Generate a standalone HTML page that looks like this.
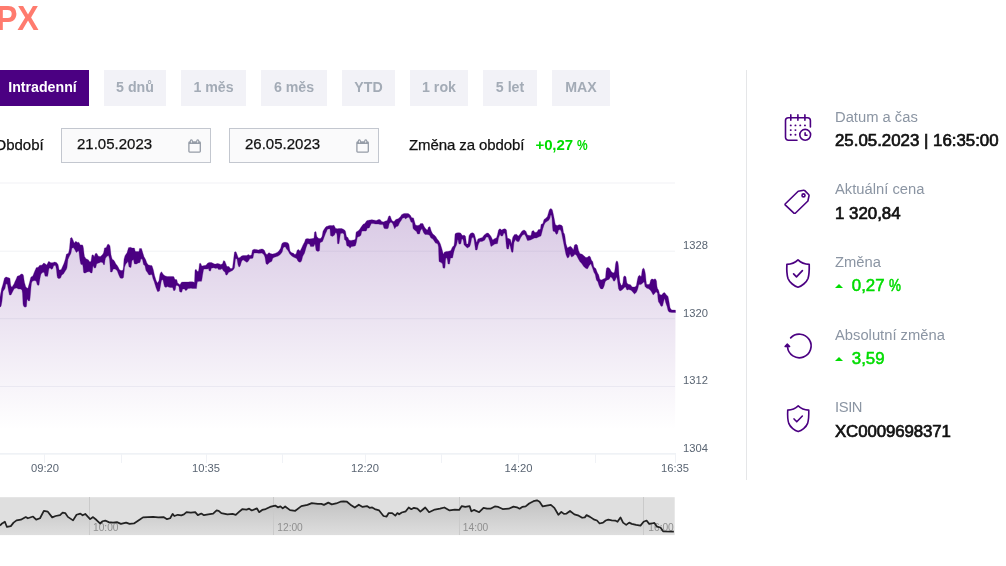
<!DOCTYPE html>
<html lang="cs">
<head>
<meta charset="utf-8">
<title>PX</title>
<style>
html,body{margin:0;padding:0;background:#fff;}
body{width:1006px;height:566px;overflow:hidden;position:relative;font-family:"Liberation Sans",sans-serif;color:#000;}
.abs{position:absolute;white-space:nowrap;}
h1{position:absolute;left:-4.2px;top:0.4px;margin:0;font-size:34.7px;line-height:36px;font-weight:bold;color:#ff7b6e;letter-spacing:-0.3px;transform:scaleX(0.93);transform-origin:0 0;}
.tab{position:absolute;top:70px;height:36px;line-height:35px;box-sizing:border-box;text-align:center;font-size:14.2px;font-weight:bold;color:#a3abb6;background:#f2f2f7;white-space:nowrap;}
.tab.on{background:#4b0082;color:#fff;}
.inp{position:absolute;top:128px;height:35px;width:150px;box-sizing:border-box;border:1px solid #c3c7cf;background:#fafafb;font-size:15px;line-height:30px;padding-left:15px;color:#111;-webkit-text-stroke:0.25px currentColor;}
.inp svg{position:absolute;left:126px;top:10px;}
.lbl{position:absolute;font-size:15px;line-height:20px;color:#111;white-space:nowrap;-webkit-text-stroke:0.25px currentColor;}
.grn{color:#00dc00;font-weight:bold;letter-spacing:-0.12px;-webkit-text-stroke:0;}
.k{position:absolute;left:835px;font-size:14.75px;line-height:18px;color:#8b95a3;white-space:nowrap;}
.v{position:absolute;left:835px;font-size:16.85px;line-height:20px;font-weight:normal;-webkit-text-stroke:0.7px currentColor;color:#111;white-space:nowrap;margin-top:1px;}
.v.g{color:#00dc00;font-size:16.85px;word-spacing:-0.5px;-webkit-text-stroke:0.55px currentColor;}
.pc{display:inline-block;transform:scaleX(0.8);transform-origin:0 50%;}
.v.g i{display:inline-block;width:0;height:0;border-left:4px solid transparent;border-right:4px solid transparent;border-bottom:4.2px solid #00dc00;margin:0 8.8px 1.4px 0;vertical-align:middle;}
.ico{position:absolute;left:784px;width:28px;height:28px;}
.div{position:absolute;left:746px;top:70px;width:1px;height:410px;background:#e5e6e8;}
svg text.ax{font-family:"Liberation Sans",sans-serif;font-size:11.2px;fill:#5a6573;}
svg text.nv{font-family:"Liberation Sans",sans-serif;font-size:10.2px;fill:#8f8f8f;}
</style>
</head>
<body>
<h1>PX</h1>

<div class="tab on" style="left:-4px;width:93px;">Intradenní</div>
<div class="tab" style="left:104px;width:62px;">5 dnů</div>
<div class="tab" style="left:181px;width:65px;">1 měs</div>
<div class="tab" style="left:261px;width:66px;">6 měs</div>
<div class="tab" style="left:342px;width:53px;">YTD</div>
<div class="tab" style="left:410px;width:58px;">1 rok</div>
<div class="tab" style="left:483px;width:54px;">5 let</div>
<div class="tab" style="left:552px;width:58px;">MAX</div>

<div class="lbl" style="left:-5.5px;top:135px;">Období</div>
<div class="inp" style="left:61px;">21.05.2023<svg width="14" height="15" viewBox="0 0 14 15" fill="none" stroke="#959ca7" stroke-width="1.300"><rect x="0.900" y="3.100" width="11.400" height="10" rx="0.800"/><rect x="0.900" y="2.600" width="11.400" height="2.400" fill="#959ca7" stroke="none"/><rect x="2.300" y="0.900" width="2.100" height="3.400" rx="1" fill="#fafafb" stroke-width="1.100"/><rect x="8.700" y="0.900" width="2.100" height="3.400" rx="1" fill="#fafafb" stroke-width="1.100"/></svg></div>
<div class="inp" style="left:229px;">26.05.2023<svg width="14" height="15" viewBox="0 0 14 15" fill="none" stroke="#959ca7" stroke-width="1.300"><rect x="0.900" y="3.100" width="11.400" height="10" rx="0.800"/><rect x="0.900" y="2.600" width="11.400" height="2.400" fill="#959ca7" stroke="none"/><rect x="2.300" y="0.900" width="2.100" height="3.400" rx="1" fill="#fafafb" stroke-width="1.100"/><rect x="8.700" y="0.900" width="2.100" height="3.400" rx="1" fill="#fafafb" stroke-width="1.100"/></svg></div>
<div class="lbl" style="left:409px;top:135px;letter-spacing:-0.1px;">Změna za období</div>
<div class="lbl grn" style="left:535.5px;top:135px;">+0,27 <span class="pc">%</span></div>

<svg class="abs" style="left:0;top:0;" width="746" height="566" viewBox="0 0 746 566">
<defs>
<linearGradient id="ga" gradientUnits="userSpaceOnUse" x1="0" y1="208" x2="0" y2="430">
<stop offset="0" stop-color="#4b0082" stop-opacity="0.215"/>
<stop offset="1" stop-color="#4b0082" stop-opacity="0"/>
</linearGradient>
<linearGradient id="gn" gradientUnits="userSpaceOnUse" x1="0" y1="500" x2="0" y2="535">
<stop offset="0" stop-color="#c2c2c2"/>
<stop offset="1" stop-color="#dedede"/>
</linearGradient>
</defs>
<rect x="0" y="182.5" width="675" height="1" fill="#f1f2f6"/><rect x="0" y="250.7" width="675" height="1" fill="#f1f2f6"/><rect x="0" y="318.2" width="675" height="1" fill="#f1f2f6"/><rect x="0" y="386" width="675" height="1" fill="#f1f2f6"/>
<rect x="0" y="453.3" width="676" height="1.2" fill="#e9edf2"/>
<rect x="44.0" y="454" width="1" height="9" fill="#f0f2f6"/><rect x="121.0" y="454" width="1" height="9" fill="#f0f2f6"/><rect x="206.0" y="454" width="1" height="9" fill="#f0f2f6"/><rect x="282.0" y="454" width="1" height="9" fill="#f0f2f6"/><rect x="365.0" y="454" width="1" height="9" fill="#f0f2f6"/><rect x="441.0" y="454" width="1" height="9" fill="#f0f2f6"/><rect x="518.0" y="454" width="1" height="9" fill="#f0f2f6"/><rect x="595.0" y="454" width="1" height="9" fill="#f0f2f6"/><rect x="675.0" y="454" width="1" height="9" fill="#f0f2f6"/>
<path d="M0.0 302.0 L0.5 300.5 L1.0 299.0 L1.5 296.5 L2.0 294.3 L2.5 291.0 L3.0 287.7 L3.5 286.4 L4.0 285.0 L4.5 283.7 L5.0 283.0 L5.5 281.6 L6.0 280.3 L6.5 280.5 L7.0 280.8 L7.5 281.1 L8.0 282.7 L8.5 284.3 L9.0 285.4 L9.5 286.5 L10.0 286.9 L10.5 289.4 L11.0 290.6 L11.5 290.3 L12.0 289.9 L12.5 289.0 L13.0 288.2 L13.5 287.4 L14.0 286.6 L14.5 285.6 L15.0 285.0 L15.5 284.4 L16.0 283.8 L16.5 283.2 L17.0 282.7 L17.5 282.3 L18.0 282.4 L18.5 282.4 L19.0 282.4 L19.5 282.3 L20.0 282.1 L20.5 281.8 L21.0 281.7 L21.5 281.8 L22.0 282.1 L22.5 283.8 L23.0 289.3 L23.5 290.8 L24.0 293.0 L24.5 294.8 L25.0 295.8 L25.5 296.5 L26.0 297.0 L26.5 297.0 L27.0 293.6 L27.5 293.8 L28.0 294.1 L28.5 293.5 L29.0 292.6 L29.5 291.7 L30.0 289.7 L30.5 285.8 L31.0 282.2 L31.5 279.9 L32.0 279.2 L32.5 278.7 L33.0 278.3 L33.5 277.6 L34.0 276.8 L34.5 276.2 L35.0 275.6 L35.5 275.1 L36.0 274.6 L36.5 274.8 L37.0 275.7 L37.5 276.2 L38.0 276.2 L38.5 276.1 L39.0 275.7 L39.5 273.5 L40.0 271.8 L40.5 270.5 L41.0 269.7 L41.5 269.4 L42.0 268.9 L42.5 268.5 L43.0 268.1 L43.5 267.8 L44.0 267.7 L44.5 268.5 L45.0 269.9 L45.5 270.1 L46.0 270.3 L46.5 270.6 L47.0 270.5 L47.5 270.0 L48.0 268.6 L48.5 266.5 L49.0 265.0 L49.5 265.0 L50.0 265.0 L50.5 265.4 L51.0 265.9 L51.5 266.0 L52.0 265.9 L52.5 265.7 L53.0 265.2 L53.5 264.3 L54.0 263.9 L54.5 263.8 L55.0 263.8 L55.5 263.9 L56.0 264.9 L56.5 266.4 L57.0 269.4 L57.5 270.8 L58.0 271.3 L58.5 272.6 L59.0 273.9 L59.5 274.2 L60.0 274.1 L60.5 274.0 L61.0 273.4 L61.5 272.2 L62.0 271.3 L62.5 270.6 L63.0 269.9 L63.5 269.2 L64.0 268.2 L64.5 267.0 L65.0 265.8 L65.5 264.6 L66.0 263.0 L66.5 261.6 L67.0 260.7 L67.5 258.4 L68.0 256.4 L68.5 255.5 L69.0 254.0 L69.5 252.1 L70.0 248.8 L70.5 246.2 L71.0 245.4 L71.5 243.9 L72.0 242.9 L72.5 243.4 L73.0 243.9 L73.5 244.5 L74.0 245.4 L74.5 246.1 L75.0 246.1 L75.5 246.3 L76.0 246.6 L76.5 247.1 L77.0 247.1 L77.5 247.0 L78.0 246.7 L78.5 246.5 L79.0 247.4 L79.5 250.1 L80.0 252.5 L80.5 254.0 L81.0 254.8 L81.5 254.7 L82.0 254.6 L82.5 254.8 L83.0 256.3 L83.5 260.2 L84.0 263.1 L84.5 264.7 L85.0 265.1 L85.5 265.4 L86.0 265.6 L86.5 265.8 L87.0 265.7 L87.5 265.7 L88.0 265.7 L88.5 265.8 L89.0 266.2 L89.5 266.7 L90.0 267.1 L90.5 267.2 L91.0 267.1 L91.5 265.5 L92.0 264.0 L92.5 262.6 L93.0 260.2 L93.5 260.9 L94.0 262.0 L94.5 262.1 L95.0 261.2 L95.5 260.8 L96.0 260.1 L96.5 258.9 L97.0 258.6 L97.5 259.0 L98.0 259.5 L98.5 259.6 L99.0 259.6 L99.5 259.5 L100.0 259.5 L100.5 259.3 L101.0 259.1 L101.5 258.9 L102.0 258.8 L102.5 258.5 L103.0 258.5 L103.5 258.8 L104.0 257.8 L104.5 256.3 L105.0 254.2 L105.5 253.0 L106.0 252.6 L106.5 251.9 L107.0 251.0 L107.5 250.3 L108.0 250.1 L108.5 250.0 L109.0 250.7 L109.5 252.1 L110.0 255.6 L110.5 261.1 L111.0 263.4 L111.5 264.3 L112.0 265.3 L112.5 265.1 L113.0 264.6 L113.5 264.6 L114.0 264.7 L114.5 265.2 L115.0 265.7 L115.5 266.3 L116.0 266.9 L116.5 267.4 L117.0 267.9 L117.5 268.7 L118.0 269.9 L118.5 271.0 L119.0 272.1 L119.5 273.2 L120.0 273.9 L120.5 274.2 L121.0 274.3 L121.5 274.4 L122.0 274.4 L122.5 274.2 L123.0 274.0 L123.5 272.0 L124.0 266.0 L124.5 262.5 L125.0 260.8 L125.5 259.8 L126.0 259.0 L126.5 258.3 L127.0 257.7 L127.5 256.6 L128.0 255.5 L128.5 255.9 L129.0 257.2 L129.5 257.3 L130.0 257.3 L130.5 257.4 L131.0 257.5 L131.5 255.9 L132.0 254.3 L132.5 254.2 L133.0 254.0 L133.5 253.9 L134.0 255.3 L134.5 256.1 L135.0 257.2 L135.5 257.8 L136.0 257.8 L136.5 257.8 L137.0 257.7 L137.5 257.5 L138.0 257.3 L138.5 257.3 L139.0 257.1 L139.5 255.7 L140.0 255.5 L140.5 254.5 L141.0 253.5 L141.5 253.8 L142.0 254.7 L142.5 255.8 L143.0 257.9 L143.5 259.9 L144.0 260.8 L144.5 261.4 L145.0 262.1 L145.5 263.8 L146.0 265.6 L146.5 266.6 L147.0 267.6 L147.5 268.2 L148.0 269.0 L148.5 269.7 L149.0 270.1 L149.5 270.1 L150.0 270.1 L150.5 270.1 L151.0 270.1 L151.5 270.1 L152.0 270.2 L152.5 272.0 L153.0 273.7 L153.5 275.2 L154.0 277.1 L154.5 279.0 L155.0 280.7 L155.5 282.3 L156.0 283.9 L156.5 285.1 L157.0 286.3 L157.5 287.2 L158.0 286.8 L158.5 286.5 L159.0 285.9 L159.5 283.9 L160.0 281.2 L160.5 279.5 L161.0 277.6 L161.5 276.1 L162.0 276.3 L162.5 276.5 L163.0 277.0 L163.5 278.5 L164.0 279.9 L164.5 281.0 L165.0 281.3 L165.5 281.7 L166.0 281.8 L166.5 281.7 L167.0 281.6 L167.5 281.6 L168.0 281.6 L168.5 281.7 L169.0 281.8 L169.5 281.9 L170.0 281.9 L170.5 281.9 L171.0 282.0 L171.5 282.0 L172.0 282.0 L172.5 282.0 L173.0 282.5 L173.5 283.5 L174.0 283.8 L174.5 284.5 L175.0 285.0 L175.5 284.1 L176.0 282.5 L176.5 282.5 L177.0 283.0 L177.5 284.1 L178.0 284.8 L178.5 284.8 L179.0 285.7 L179.5 287.8 L180.0 288.2 L180.5 288.1 L181.0 287.5 L181.5 287.2 L182.0 286.8 L182.5 285.7 L183.0 285.5 L183.5 285.5 L184.0 285.5 L184.5 285.5 L185.0 285.9 L185.5 286.2 L186.0 286.2 L186.5 286.2 L187.0 285.9 L187.5 285.5 L188.0 285.2 L188.5 285.2 L189.0 285.1 L189.5 285.1 L190.0 285.1 L190.5 285.1 L191.0 285.1 L191.5 285.1 L192.0 285.1 L192.5 285.1 L193.0 285.2 L193.5 285.3 L194.0 285.4 L194.5 285.5 L195.0 279.3 L195.5 279.1 L196.0 278.9 L196.5 279.2 L197.0 277.6 L197.5 276.5 L198.0 276.4 L198.5 276.3 L199.0 274.7 L199.5 272.5 L200.0 272.4 L200.5 272.3 L201.0 272.7 L201.5 273.5 L202.0 272.5 L202.5 270.8 L203.0 269.2 L203.5 267.8 L204.0 267.3 L204.5 267.3 L205.0 267.2 L205.5 267.2 L206.0 267.1 L206.5 266.9 L207.0 266.5 L207.5 266.1 L208.0 265.9 L208.5 265.7 L209.0 266.6 L209.5 266.7 L210.0 266.7 L210.5 266.8 L211.0 266.1 L211.5 265.4 L212.0 265.4 L212.5 265.5 L213.0 265.6 L213.5 265.7 L214.0 265.8 L214.5 266.0 L215.0 266.1 L215.5 266.3 L216.0 266.1 L216.5 266.0 L217.0 265.8 L217.5 265.8 L218.0 266.2 L218.5 266.6 L219.0 266.7 L219.5 266.8 L220.0 266.9 L220.5 267.0 L221.0 267.0 L221.5 266.6 L222.0 266.3 L222.5 266.5 L223.0 266.2 L223.5 265.9 L224.0 266.1 L224.5 266.3 L225.0 266.9 L225.5 268.5 L226.0 269.6 L226.5 270.2 L227.0 270.8 L227.5 270.4 L228.0 270.0 L228.5 269.6 L229.0 269.5 L229.5 269.7 L230.0 269.9 L230.5 270.1 L231.0 269.9 L231.5 269.7 L232.0 269.5 L232.5 269.1 L233.0 267.0 L233.5 264.7 L234.0 262.3 L234.5 259.9 L235.0 257.5 L235.5 255.2 L236.0 255.2 L236.5 255.9 L237.0 256.7 L237.5 258.8 L238.0 260.9 L238.5 262.1 L239.0 262.5 L239.5 262.2 L240.0 261.8 L240.5 261.1 L241.0 259.9 L241.5 258.8 L242.0 258.3 L242.5 257.9 L243.0 257.7 L243.5 257.8 L244.0 258.0 L244.5 258.2 L245.0 258.3 L245.5 258.5 L246.0 258.7 L246.5 258.8 L247.0 259.0 L247.5 258.5 L248.0 258.1 L248.5 257.7 L249.0 257.5 L249.5 257.2 L250.0 257.0 L250.5 256.9 L251.0 256.8 L251.5 256.5 L252.0 255.3 L252.5 254.2 L253.0 253.8 L253.5 252.4 L254.0 251.2 L254.5 251.1 L255.0 251.2 L255.5 251.2 L256.0 251.3 L256.5 251.3 L257.0 251.4 L257.5 251.5 L258.0 251.6 L258.5 251.6 L259.0 251.5 L259.5 251.4 L260.0 251.3 L260.5 251.2 L261.0 251.1 L261.5 251.1 L262.0 251.2 L262.5 251.3 L263.0 251.6 L263.5 251.9 L264.0 252.5 L264.5 253.2 L265.0 254.6 L265.5 256.8 L266.0 258.9 L266.5 259.2 L267.0 259.3 L267.5 259.3 L268.0 258.9 L268.5 258.3 L269.0 257.8 L269.5 257.7 L270.0 257.8 L270.5 257.8 L271.0 257.7 L271.5 257.7 L272.0 257.4 L272.5 256.5 L273.0 255.9 L273.5 255.7 L274.0 255.6 L274.5 255.4 L275.0 255.3 L275.5 255.1 L276.0 254.9 L276.5 254.7 L277.0 254.5 L277.5 254.3 L278.0 253.9 L278.5 253.6 L279.0 253.1 L279.5 252.6 L280.0 252.0 L280.5 251.3 L281.0 250.3 L281.5 248.8 L282.0 247.9 L282.5 247.0 L283.0 245.7 L283.5 244.9 L284.0 244.7 L284.5 244.6 L285.0 244.5 L285.5 244.7 L286.0 245.2 L286.5 245.6 L287.0 246.1 L287.5 246.5 L288.0 246.9 L288.5 247.6 L289.0 248.6 L289.5 251.0 L290.0 252.6 L290.5 253.2 L291.0 253.8 L291.5 254.2 L292.0 254.5 L292.5 254.7 L293.0 254.9 L293.5 255.2 L294.0 255.6 L294.5 256.0 L295.0 256.1 L295.5 256.1 L296.0 256.1 L296.5 255.5 L297.0 254.9 L297.5 255.0 L298.0 255.5 L298.5 255.6 L299.0 255.9 L299.5 256.3 L300.0 256.6 L300.5 256.2 L301.0 255.5 L301.5 254.7 L302.0 253.2 L302.5 251.5 L303.0 250.3 L303.5 249.5 L304.0 248.6 L304.5 247.7 L305.0 246.2 L305.5 244.5 L306.0 243.4 L306.5 242.6 L307.0 241.9 L307.5 241.2 L308.0 241.2 L308.5 241.3 L309.0 241.4 L309.5 241.5 L310.0 242.0 L310.5 242.6 L311.0 242.6 L311.5 242.6 L312.0 242.6 L312.5 242.5 L313.0 242.5 L313.5 242.4 L314.0 241.9 L314.5 238.5 L315.0 237.7 L315.5 239.2 L316.0 240.9 L316.5 242.8 L317.0 243.9 L317.5 244.3 L318.0 244.7 L318.5 244.8 L319.0 244.6 L319.5 244.5 L320.0 240.7 L320.5 240.5 L321.0 240.1 L321.5 239.6 L322.0 239.2 L322.5 237.8 L323.0 235.7 L323.5 234.6 L324.0 233.5 L324.5 232.5 L325.0 231.5 L325.5 230.5 L326.0 229.6 L326.5 228.9 L327.0 228.3 L327.5 227.7 L328.0 227.5 L328.5 227.4 L329.0 227.3 L329.5 227.1 L330.0 227.3 L330.5 230.6 L331.0 230.7 L331.5 230.8 L332.0 231.0 L332.5 231.0 L333.0 230.7 L333.5 230.5 L334.0 230.4 L334.5 230.6 L335.0 230.5 L335.5 230.4 L336.0 230.6 L336.5 230.8 L337.0 231.8 L337.5 236.1 L338.0 236.2 L338.5 236.3 L339.0 236.0 L339.5 234.3 L340.0 232.7 L340.5 231.1 L341.0 231.0 L341.5 230.9 L342.0 230.9 L342.5 231.0 L343.0 231.3 L343.5 231.5 L344.0 232.1 L344.5 234.8 L345.0 235.3 L345.5 235.8 L346.0 237.6 L346.5 240.5 L347.0 241.5 L347.5 241.7 L348.0 242.0 L348.5 242.7 L349.0 243.3 L349.5 243.9 L350.0 244.3 L350.5 244.0 L351.0 243.7 L351.5 243.4 L352.0 243.3 L352.5 243.3 L353.0 243.2 L353.5 243.1 L354.0 243.0 L354.5 242.9 L355.0 242.8 L355.5 241.9 L356.0 238.3 L356.5 236.8 L357.0 235.3 L357.5 234.1 L358.0 233.9 L358.5 233.6 L359.0 233.3 L359.5 232.9 L360.0 232.5 L360.5 231.9 L361.0 231.0 L361.5 229.5 L362.0 228.4 L362.5 228.1 L363.0 227.8 L363.5 227.6 L364.0 227.5 L364.5 227.4 L365.0 227.2 L365.5 226.8 L366.0 226.5 L366.5 225.8 L367.0 224.8 L367.5 224.3 L368.0 224.2 L368.5 224.2 L369.0 224.1 L369.5 223.8 L370.0 223.2 L370.5 222.5 L371.0 222.0 L371.5 221.6 L372.0 221.6 L372.5 221.7 L373.0 221.7 L373.5 221.8 L374.0 221.9 L374.5 222.0 L375.0 222.1 L375.5 222.2 L376.0 222.3 L376.5 222.3 L377.0 222.2 L377.5 222.1 L378.0 221.9 L378.5 221.9 L379.0 221.9 L379.5 221.9 L380.0 222.0 L380.5 222.2 L381.0 222.6 L381.5 223.0 L382.0 223.1 L382.5 223.2 L383.0 223.2 L383.5 224.3 L384.0 225.0 L384.5 224.9 L385.0 224.9 L385.5 224.9 L386.0 224.8 L386.5 224.8 L387.0 224.7 L387.5 224.2 L388.0 223.4 L388.5 221.8 L389.0 220.3 L389.5 219.6 L390.0 219.2 L390.5 219.5 L391.0 220.2 L391.5 220.9 L392.0 221.6 L392.5 222.3 L393.0 223.0 L393.5 223.6 L394.0 224.4 L394.5 224.9 L395.0 224.5 L395.5 223.7 L396.0 223.1 L396.5 222.9 L397.0 222.7 L397.5 222.6 L398.0 222.4 L398.5 221.8 L399.0 221.0 L399.5 220.2 L400.0 219.7 L400.5 219.0 L401.0 218.2 L401.5 217.4 L402.0 216.8 L402.5 216.3 L403.0 216.0 L403.5 215.8 L404.0 215.7 L404.5 215.6 L405.0 215.9 L405.5 216.2 L406.0 216.0 L406.5 215.8 L407.0 215.6 L407.5 215.5 L408.0 215.5 L408.5 215.5 L409.0 215.6 L409.5 216.4 L410.0 217.2 L410.5 218.1 L411.0 219.3 L411.5 219.9 L412.0 220.1 L412.5 220.2 L413.0 223.0 L413.5 223.5 L414.0 224.6 L414.5 225.8 L415.0 226.9 L415.5 227.9 L416.0 228.2 L416.5 228.4 L417.0 229.1 L417.5 229.8 L418.0 229.8 L418.5 229.7 L419.0 229.6 L419.5 229.6 L420.0 228.3 L420.5 227.1 L421.0 226.7 L421.5 226.4 L422.0 226.1 L422.5 226.8 L423.0 227.5 L423.5 228.8 L424.0 229.7 L424.5 230.5 L425.0 231.2 L425.5 231.6 L426.0 231.8 L426.5 232.0 L427.0 232.1 L427.5 232.2 L428.0 231.5 L428.5 230.9 L429.0 230.9 L429.5 231.0 L430.0 231.5 L430.5 232.9 L431.0 234.2 L431.5 234.9 L432.0 235.6 L432.5 236.2 L433.0 236.6 L433.5 237.2 L434.0 237.8 L434.5 238.4 L435.0 239.0 L435.5 239.6 L436.0 240.1 L436.5 240.6 L437.0 241.1 L437.5 241.5 L438.0 242.3 L438.5 243.9 L439.0 251.3 L439.5 252.0 L440.0 252.6 L440.5 253.3 L441.0 254.2 L441.5 255.2 L442.0 256.2 L442.5 257.6 L443.0 260.5 L443.5 261.2 L444.0 260.6 L444.5 260.2 L445.0 259.5 L445.5 256.0 L446.0 254.6 L446.5 254.7 L447.0 254.9 L447.5 255.9 L448.0 257.7 L448.5 257.7 L449.0 257.6 L449.5 257.6 L450.0 256.1 L450.5 254.3 L451.0 254.1 L451.5 253.5 L452.0 253.0 L452.5 252.5 L453.0 251.3 L453.5 249.7 L454.0 248.4 L454.5 245.8 L455.0 241.1 L455.5 240.4 L456.0 239.6 L456.5 238.9 L457.0 237.8 L457.5 236.5 L458.0 236.1 L458.5 237.5 L459.0 238.4 L459.5 238.4 L460.0 238.5 L460.5 238.6 L461.0 238.3 L461.5 237.3 L462.0 236.9 L462.5 237.3 L463.0 237.4 L463.5 238.5 L464.0 240.0 L464.5 240.3 L465.0 240.8 L465.5 241.3 L466.0 243.3 L466.5 245.7 L467.0 245.9 L467.5 246.0 L468.0 245.8 L468.5 243.9 L469.0 241.4 L469.5 240.8 L470.0 240.0 L470.5 238.9 L471.0 237.7 L471.5 236.1 L472.0 235.2 L472.5 235.2 L473.0 235.3 L473.5 235.4 L474.0 236.5 L474.5 238.8 L475.0 241.4 L475.5 244.0 L476.0 245.1 L476.5 246.1 L477.0 246.0 L477.5 244.2 L478.0 242.4 L478.5 241.4 L479.0 240.8 L479.5 240.2 L480.0 239.9 L480.5 239.8 L481.0 239.7 L481.5 239.6 L482.0 239.5 L482.5 239.2 L483.0 238.8 L483.5 238.3 L484.0 237.9 L484.5 237.5 L485.0 236.9 L485.5 236.2 L486.0 235.5 L486.5 235.2 L487.0 235.1 L487.5 235.1 L488.0 235.0 L488.5 235.7 L489.0 236.6 L489.5 237.6 L490.0 238.9 L490.5 240.4 L491.0 241.5 L491.5 241.8 L492.0 242.3 L492.5 242.7 L493.0 242.6 L493.5 242.2 L494.0 241.8 L494.5 241.4 L495.0 241.2 L495.5 241.0 L496.0 240.9 L496.5 240.7 L497.0 239.9 L497.5 239.0 L498.0 236.7 L498.5 234.1 L499.0 233.0 L499.5 232.3 L500.0 231.5 L500.5 232.0 L501.0 232.8 L501.5 233.1 L502.0 233.0 L502.5 232.8 L503.0 232.2 L503.5 231.5 L504.0 230.9 L504.5 231.0 L505.0 231.2 L505.5 232.7 L506.0 236.3 L506.5 238.6 L507.0 241.9 L507.5 243.6 L508.0 243.7 L508.5 243.7 L509.0 242.5 L509.5 241.3 L510.0 242.4 L510.5 243.6 L511.0 245.7 L511.5 247.9 L512.0 246.8 L512.5 245.3 L513.0 244.4 L513.5 241.7 L514.0 238.9 L514.5 238.1 L515.0 237.5 L515.5 237.0 L516.0 237.3 L516.5 237.6 L517.0 238.1 L517.5 238.4 L518.0 238.6 L518.5 238.8 L519.0 238.5 L519.5 237.5 L520.0 236.6 L520.5 235.7 L521.0 234.9 L521.5 234.2 L522.0 233.5 L522.5 233.0 L523.0 232.7 L523.5 232.4 L524.0 232.2 L524.5 232.3 L525.0 232.8 L525.5 233.4 L526.0 234.1 L526.5 235.4 L527.0 236.8 L527.5 237.9 L528.0 237.8 L528.5 237.8 L529.0 237.8 L529.5 237.8 L530.0 237.8 L530.5 237.7 L531.0 237.6 L531.5 236.3 L532.0 235.1 L532.5 234.9 L533.0 234.7 L533.5 234.6 L534.0 234.8 L534.5 235.0 L535.0 235.3 L535.5 235.2 L536.0 235.2 L536.5 235.1 L537.0 234.8 L537.5 234.3 L538.0 233.8 L538.5 233.3 L539.0 233.2 L539.5 233.1 L540.0 233.0 L540.5 232.5 L541.0 230.3 L541.5 229.0 L542.0 228.0 L542.5 226.9 L543.0 225.7 L543.5 224.0 L544.0 222.4 L544.5 221.6 L545.0 221.0 L545.5 220.5 L546.0 220.0 L546.5 219.6 L547.0 219.2 L547.5 218.7 L548.0 217.6 L548.5 216.6 L549.0 215.4 L549.5 214.3 L550.0 213.5 L550.5 212.1 L551.0 211.7 L551.5 212.1 L552.0 214.0 L552.5 218.6 L553.0 221.9 L553.5 223.1 L554.0 224.4 L554.5 225.8 L555.0 227.4 L555.5 228.8 L556.0 229.4 L556.5 229.8 L557.0 229.8 L557.5 229.6 L558.0 228.7 L558.5 227.5 L559.0 227.3 L559.5 227.2 L560.0 227.2 L560.5 227.4 L561.0 228.0 L561.5 229.0 L562.0 230.5 L562.5 232.0 L563.0 234.6 L563.5 237.5 L564.0 239.2 L564.5 240.9 L565.0 243.2 L565.5 246.3 L566.0 249.3 L566.5 250.6 L567.0 251.9 L567.5 253.1 L568.0 252.7 L568.5 252.4 L569.0 251.9 L569.5 250.9 L570.0 250.1 L570.5 250.6 L571.0 251.4 L571.5 252.2 L572.0 252.3 L572.5 252.6 L573.0 252.9 L573.5 252.9 L574.0 251.3 L574.5 249.9 L575.0 249.5 L575.5 249.5 L576.0 249.6 L576.5 249.9 L577.0 250.6 L577.5 251.4 L578.0 253.2 L578.5 254.8 L579.0 255.8 L579.5 256.8 L580.0 257.7 L580.5 258.0 L581.0 258.3 L581.5 258.7 L582.0 259.1 L582.5 259.7 L583.0 260.3 L583.5 260.8 L584.0 261.2 L584.5 261.7 L585.0 262.2 L585.5 262.7 L586.0 263.0 L586.5 263.0 L587.0 263.1 L587.5 263.0 L588.0 262.4 L588.5 261.7 L589.0 261.1 L589.5 260.8 L590.0 260.6 L590.5 260.6 L591.0 261.5 L591.5 262.8 L592.0 263.8 L592.5 264.7 L593.0 266.2 L593.5 268.3 L594.0 269.8 L594.5 270.4 L595.0 271.0 L595.5 272.0 L596.0 273.8 L596.5 275.3 L597.0 276.2 L597.5 277.0 L598.0 278.0 L598.5 279.2 L599.0 280.8 L599.5 282.6 L600.0 283.6 L600.5 284.1 L601.0 284.4 L601.5 284.4 L602.0 284.4 L602.5 284.2 L603.0 283.8 L603.5 283.2 L604.0 282.5 L604.5 281.6 L605.0 280.4 L605.5 279.6 L606.0 276.2 L606.5 274.4 L607.0 274.0 L607.5 273.7 L608.0 273.6 L608.5 273.6 L609.0 273.7 L609.5 273.6 L610.0 273.5 L610.5 273.5 L611.0 274.0 L611.5 274.6 L612.0 275.1 L612.5 275.6 L613.0 276.3 L613.5 276.9 L614.0 276.9 L614.5 276.5 L615.0 274.8 L615.5 271.9 L616.0 270.1 L616.5 269.1 L617.0 269.5 L617.5 271.1 L618.0 273.7 L618.5 277.5 L619.0 281.9 L619.5 284.5 L620.0 286.7 L620.5 287.1 L621.0 287.6 L621.5 287.8 L622.0 287.4 L622.5 286.9 L623.0 285.5 L623.5 282.7 L624.0 282.2 L624.5 281.7 L625.0 281.4 L625.5 281.7 L626.0 282.6 L626.5 284.9 L627.0 286.6 L627.5 286.7 L628.0 286.9 L628.5 287.0 L629.0 287.1 L629.5 287.2 L630.0 287.2 L630.5 287.4 L631.0 287.8 L631.5 288.4 L632.0 289.0 L632.5 289.4 L633.0 289.7 L633.5 290.0 L634.0 290.4 L634.5 290.4 L635.0 290.1 L635.5 289.8 L636.0 289.5 L636.5 288.4 L637.0 286.3 L637.5 284.5 L638.0 282.6 L638.5 280.9 L639.0 280.1 L639.5 280.0 L640.0 280.0 L640.5 280.4 L641.0 280.6 L641.5 279.6 L642.0 277.4 L642.5 276.1 L643.0 275.7 L643.5 275.3 L644.0 275.2 L644.5 276.6 L645.0 279.1 L645.5 280.7 L646.0 283.9 L646.5 286.0 L647.0 286.2 L647.5 286.4 L648.0 286.6 L648.5 286.6 L649.0 286.7 L649.5 286.8 L650.0 286.3 L650.5 285.4 L651.0 285.3 L651.5 285.6 L652.0 285.9 L652.5 286.4 L653.0 287.0 L653.5 287.1 L654.0 286.8 L654.5 286.4 L655.0 285.9 L655.5 285.8 L656.0 285.8 L656.5 286.5 L657.0 289.5 L657.5 290.9 L658.0 294.1 L658.5 295.9 L659.0 297.1 L659.5 298.6 L660.0 299.4 L660.5 300.0 L661.0 300.5 L661.5 300.7 L662.0 300.4 L662.5 299.9 L663.0 298.7 L663.5 297.5 L664.0 296.4 L664.5 295.5 L665.0 296.4 L665.5 297.9 L666.0 299.0 L666.5 299.9 L667.0 300.8 L667.5 302.1 L668.0 303.5 L668.5 305.0 L669.0 306.6 L669.5 308.3 L670.0 309.9 L670.5 310.4 L671.0 310.7 L671.5 311.1 L672.0 311.2 L672.5 311.2 L673.0 311.2 L673.5 311.2 L674.0 311.2 L674.5 311.3 L675.0 311.3 L675.5 311.4 L675 454 L0 454 Z" fill="url(#ga)"/>
<path d="M0.0 297.0 L0.5 294.3 L1.0 291.7 L1.5 289.0 L2.0 287.3 L2.5 285.7 L3.0 284.0 L3.5 282.0 L4.0 280.0 L4.5 278.1 L5.0 277.7 L5.5 277.3 L6.0 276.9 L6.5 277.1 L7.0 277.3 L7.5 277.5 L8.0 277.6 L8.5 277.7 L9.0 277.9 L9.5 278.0 L10.0 278.7 L10.5 283.7 L11.0 286.3 L11.5 286.7 L12.0 286.9 L12.5 286.2 L13.0 285.4 L13.5 284.7 L14.0 283.9 L14.5 282.8 L15.0 281.6 L15.5 280.5 L16.0 279.4 L16.5 278.2 L17.0 277.0 L17.5 276.1 L18.0 276.0 L18.5 275.8 L19.0 275.7 L19.5 275.5 L20.0 275.1 L20.5 274.6 L21.0 274.2 L21.5 273.9 L22.0 274.1 L22.5 274.3 L23.0 274.5 L23.5 275.7 L24.0 279.4 L24.5 282.6 L25.0 284.2 L25.5 285.9 L26.0 287.2 L26.5 287.5 L27.0 287.9 L27.5 288.3 L28.0 287.9 L28.5 286.1 L29.0 284.3 L29.5 282.4 L30.0 280.4 L30.5 278.4 L31.0 277.0 L31.5 276.8 L32.0 276.5 L32.5 276.3 L33.0 275.6 L33.5 274.3 L34.0 272.9 L34.5 271.7 L35.0 270.6 L35.5 269.4 L36.0 268.3 L36.5 267.6 L37.0 267.5 L37.5 267.4 L38.0 267.2 L38.5 266.9 L39.0 266.2 L39.5 265.5 L40.0 265.2 L40.5 265.2 L41.0 265.2 L41.5 265.2 L42.0 264.9 L42.5 264.4 L43.0 263.8 L43.5 263.3 L44.0 263.1 L44.5 263.4 L45.0 263.6 L45.5 264.0 L46.0 264.5 L46.5 265.0 L47.0 264.6 L47.5 263.6 L48.0 262.6 L48.5 261.6 L49.0 261.4 L49.5 261.8 L50.0 262.2 L50.5 262.6 L51.0 262.7 L51.5 262.7 L52.0 262.7 L52.5 262.7 L53.0 262.6 L53.5 262.4 L54.0 262.2 L54.5 262.1 L55.0 262.1 L55.5 262.3 L56.0 262.5 L56.5 262.6 L57.0 263.2 L57.5 263.8 L58.0 264.5 L58.5 266.6 L59.0 269.4 L59.5 270.1 L60.0 269.9 L60.5 269.8 L61.0 269.7 L61.5 268.9 L62.0 267.8 L62.5 266.7 L63.0 265.6 L63.5 264.5 L64.0 263.3 L64.5 261.8 L65.0 260.3 L65.5 258.6 L66.0 256.1 L66.5 254.1 L67.0 253.9 L67.5 253.7 L68.0 253.5 L68.5 252.9 L69.0 251.1 L69.5 248.3 L70.0 242.5 L70.5 238.1 L71.0 237.9 L71.5 237.6 L72.0 237.7 L72.5 238.9 L73.0 240.0 L73.5 241.2 L74.0 242.4 L74.5 243.0 L75.0 242.3 L75.5 241.6 L76.0 241.3 L76.5 241.8 L77.0 242.3 L77.5 242.6 L78.0 242.5 L78.5 242.3 L79.0 242.5 L79.5 243.5 L80.0 244.5 L80.5 245.1 L81.0 245.0 L81.5 244.9 L82.0 244.7 L82.5 245.1 L83.0 246.1 L83.5 248.5 L84.0 253.3 L84.5 256.4 L85.0 257.2 L85.5 257.9 L86.0 258.7 L86.5 259.1 L87.0 259.3 L87.5 259.4 L88.0 259.5 L88.5 260.0 L89.0 260.8 L89.5 261.6 L90.0 261.9 L90.5 261.6 L91.0 261.2 L91.5 258.1 L92.0 255.0 L92.5 254.9 L93.0 254.7 L93.5 255.3 L94.0 256.5 L94.5 256.2 L95.0 254.4 L95.5 253.5 L96.0 253.4 L96.5 253.2 L97.0 253.7 L97.5 254.7 L98.0 255.7 L98.5 256.2 L99.0 256.3 L99.5 256.4 L100.0 256.5 L100.5 256.4 L101.0 256.0 L101.5 255.6 L102.0 255.2 L102.5 254.6 L103.0 253.7 L103.5 252.9 L104.0 250.7 L104.5 247.9 L105.0 247.9 L105.5 247.8 L106.0 247.7 L106.5 246.9 L107.0 245.7 L107.5 244.6 L108.0 244.5 L108.5 244.3 L109.0 244.4 L109.5 245.2 L110.0 245.9 L110.5 250.3 L111.0 254.7 L111.5 256.7 L112.0 258.6 L112.5 259.4 L113.0 259.7 L113.5 260.1 L114.0 260.5 L114.5 261.3 L115.0 262.3 L115.5 263.3 L116.0 264.0 L116.5 264.7 L117.0 265.3 L117.5 265.9 L118.0 266.8 L118.5 267.8 L119.0 268.8 L119.5 269.8 L120.0 270.1 L120.5 270.2 L121.0 270.4 L121.5 270.5 L122.0 270.4 L122.5 270.3 L123.0 270.1 L123.5 266.5 L124.0 259.2 L124.5 257.5 L125.0 255.8 L125.5 254.9 L126.0 254.2 L126.5 253.4 L127.0 252.7 L127.5 251.1 L128.0 249.4 L128.5 247.7 L129.0 247.6 L129.5 247.5 L130.0 247.4 L130.5 247.3 L131.0 247.5 L131.5 247.7 L132.0 247.9 L132.5 248.1 L133.0 248.1 L133.5 248.1 L134.0 248.1 L134.5 248.2 L135.0 250.4 L135.5 251.6 L136.0 251.6 L136.5 251.6 L137.0 251.6 L137.5 251.6 L138.0 251.6 L138.5 251.6 L139.0 251.4 L139.5 248.6 L140.0 248.6 L140.5 248.5 L141.0 248.5 L141.5 248.6 L142.0 250.2 L142.5 251.8 L143.0 253.5 L143.5 255.1 L144.0 256.7 L144.5 257.5 L145.0 258.4 L145.5 259.3 L146.0 260.6 L146.5 261.9 L147.0 263.2 L147.5 263.8 L148.0 264.5 L148.5 265.1 L149.0 265.1 L149.5 265.2 L150.0 265.3 L150.5 265.4 L151.0 265.5 L151.5 265.6 L152.0 265.8 L152.5 267.3 L153.0 268.8 L153.5 270.4 L154.0 272.9 L154.5 275.3 L155.0 276.9 L155.5 278.6 L156.0 280.2 L156.5 281.2 L157.0 282.2 L157.5 282.9 L158.0 282.3 L158.5 281.6 L159.0 280.5 L159.5 277.0 L160.0 273.9 L160.5 273.1 L161.0 272.3 L161.5 271.7 L162.0 272.5 L162.5 273.2 L163.0 274.0 L163.5 274.7 L164.0 275.0 L164.5 275.4 L165.0 275.8 L165.5 276.1 L166.0 276.2 L166.5 276.3 L167.0 276.5 L167.5 276.6 L168.0 276.5 L168.5 276.5 L169.0 276.4 L169.5 276.4 L170.0 276.4 L170.5 276.4 L171.0 276.5 L171.5 276.5 L172.0 276.6 L172.5 276.6 L173.0 276.6 L173.5 276.6 L174.0 277.1 L174.5 278.6 L175.0 279.5 L175.5 279.5 L176.0 279.5 L176.5 279.5 L177.0 280.4 L177.5 282.7 L178.0 283.6 L178.5 283.6 L179.0 284.3 L179.5 284.4 L180.0 284.5 L180.5 284.0 L181.0 282.9 L181.5 282.2 L182.0 282.2 L182.5 282.1 L183.0 282.1 L183.5 282.1 L184.0 282.0 L184.5 282.0 L185.0 282.0 L185.5 282.0 L186.0 282.0 L186.5 282.0 L187.0 282.0 L187.5 282.0 L188.0 281.9 L188.5 281.9 L189.0 281.9 L189.5 281.8 L190.0 281.8 L190.5 281.8 L191.0 281.8 L191.5 281.8 L192.0 281.8 L192.5 281.8 L193.0 281.9 L193.5 282.1 L194.0 282.3 L194.5 282.5 L195.0 270.1 L195.5 269.7 L196.0 269.3 L196.5 269.9 L197.0 271.1 L197.5 271.5 L198.0 271.3 L198.5 271.2 L199.0 268.1 L199.5 263.6 L200.0 263.4 L200.5 263.2 L201.0 264.1 L201.5 265.6 L202.0 266.0 L202.5 265.9 L203.0 265.8 L203.5 265.7 L204.0 265.6 L204.5 265.5 L205.0 265.4 L205.5 265.3 L206.0 265.2 L206.5 264.6 L207.0 264.0 L207.5 263.3 L208.0 263.0 L208.5 262.8 L209.0 262.6 L209.5 262.4 L210.0 262.4 L210.5 262.5 L211.0 262.6 L211.5 262.6 L212.0 262.8 L212.5 263.1 L213.0 263.3 L213.5 263.6 L214.0 263.7 L214.5 263.9 L215.0 264.0 L215.5 264.1 L216.0 263.9 L216.5 263.7 L217.0 263.5 L217.5 263.5 L218.0 263.6 L218.5 263.7 L219.0 263.8 L219.5 264.0 L220.0 264.2 L220.5 264.4 L221.0 264.6 L221.5 264.3 L222.0 264.0 L222.5 263.7 L223.0 262.2 L223.5 260.7 L224.0 260.8 L224.5 260.9 L225.0 261.6 L225.5 262.9 L226.0 264.1 L226.5 265.4 L227.0 266.6 L227.5 266.6 L228.0 266.6 L228.5 266.6 L229.0 266.6 L229.5 267.3 L230.0 268.0 L230.5 268.6 L231.0 268.5 L231.5 268.4 L232.0 268.2 L232.5 267.9 L233.0 263.9 L233.5 259.9 L234.0 255.8 L234.5 252.0 L235.0 251.9 L235.5 251.8 L236.0 251.8 L236.5 253.1 L237.0 254.3 L237.5 255.7 L238.0 257.0 L238.5 258.1 L239.0 257.9 L239.5 257.6 L240.0 257.4 L240.5 257.1 L241.0 256.6 L241.5 256.1 L242.0 255.7 L242.5 255.7 L243.0 255.6 L243.5 255.6 L244.0 255.6 L244.5 255.6 L245.0 255.6 L245.5 255.6 L246.0 255.5 L246.5 255.5 L247.0 255.5 L247.5 255.1 L248.0 254.8 L248.5 254.5 L249.0 254.9 L249.5 255.2 L250.0 255.5 L250.5 255.3 L251.0 255.2 L251.5 254.7 L252.0 252.2 L252.5 250.0 L253.0 249.8 L253.5 249.6 L254.0 249.4 L254.5 249.3 L255.0 249.3 L255.5 249.4 L256.0 249.5 L256.5 249.6 L257.0 249.7 L257.5 249.8 L258.0 249.9 L258.5 250.0 L259.0 249.8 L259.5 249.6 L260.0 249.4 L260.5 249.2 L261.0 249.2 L261.5 249.1 L262.0 249.1 L262.5 249.1 L263.0 249.4 L263.5 249.6 L264.0 249.9 L264.5 250.4 L265.0 251.8 L265.5 253.1 L266.0 254.1 L266.5 254.2 L267.0 254.4 L267.5 254.3 L268.0 253.6 L268.5 253.0 L269.0 252.6 L269.5 253.0 L270.0 253.3 L270.5 253.6 L271.0 253.7 L271.5 253.8 L272.0 253.9 L272.5 254.0 L273.0 253.9 L273.5 253.8 L274.0 253.7 L274.5 253.6 L275.0 253.4 L275.5 253.2 L276.0 253.0 L276.5 252.8 L277.0 252.6 L277.5 252.3 L278.0 251.8 L278.5 251.3 L279.0 250.8 L279.5 250.1 L280.0 249.3 L280.5 248.5 L281.0 247.0 L281.5 244.7 L282.0 243.4 L282.5 243.1 L283.0 242.8 L283.5 242.4 L284.0 242.3 L284.5 242.3 L285.0 242.3 L285.5 242.3 L286.0 242.3 L286.5 242.4 L287.0 242.6 L287.5 242.8 L288.0 243.0 L288.5 243.7 L289.0 244.7 L289.5 248.3 L290.0 250.9 L290.5 251.6 L291.0 252.3 L291.5 252.6 L292.0 252.7 L292.5 252.9 L293.0 253.0 L293.5 253.3 L294.0 253.8 L294.5 254.3 L295.0 254.4 L295.5 254.2 L296.0 254.1 L296.5 252.7 L297.0 250.7 L297.5 249.9 L298.0 249.8 L298.5 249.6 L299.0 249.9 L299.5 250.4 L300.0 250.9 L300.5 250.3 L301.0 249.3 L301.5 248.3 L302.0 247.2 L302.5 246.0 L303.0 244.9 L303.5 243.9 L304.0 243.1 L304.5 242.3 L305.0 240.8 L305.5 239.2 L306.0 238.8 L306.5 238.8 L307.0 238.7 L307.5 238.6 L308.0 238.7 L308.5 238.7 L309.0 238.8 L309.5 238.9 L310.0 238.9 L310.5 238.8 L311.0 238.7 L311.5 238.7 L312.0 238.6 L312.5 238.5 L313.0 238.4 L313.5 238.3 L314.0 238.1 L314.5 232.3 L315.0 231.7 L315.5 231.7 L316.0 231.7 L316.5 234.9 L317.0 236.9 L317.5 237.3 L318.0 237.8 L318.5 238.3 L319.0 238.4 L319.5 238.5 L320.0 238.5 L320.5 238.6 L321.0 238.0 L321.5 237.3 L322.0 236.6 L322.5 233.9 L323.0 231.2 L323.5 230.3 L324.0 229.5 L324.5 228.7 L325.0 228.0 L325.5 227.3 L326.0 226.7 L326.5 226.5 L327.0 226.3 L327.5 226.2 L328.0 226.0 L328.5 225.8 L329.0 225.7 L329.5 225.5 L330.0 225.4 L330.5 225.5 L331.0 225.5 L331.5 225.6 L332.0 225.7 L332.5 225.5 L333.0 225.4 L333.5 225.3 L334.0 225.3 L334.5 226.3 L335.0 227.3 L335.5 228.2 L336.0 228.4 L336.5 228.5 L337.0 228.7 L337.5 228.7 L338.0 228.7 L338.5 228.6 L339.0 228.6 L339.5 228.6 L340.0 228.6 L340.5 228.6 L341.0 228.6 L341.5 228.6 L342.0 228.6 L342.5 228.9 L343.0 229.1 L343.5 229.4 L344.0 229.6 L344.5 230.1 L345.0 230.6 L345.5 231.4 L346.0 234.2 L346.5 236.6 L347.0 236.9 L347.5 237.2 L348.0 237.7 L348.5 239.0 L349.0 240.0 L349.5 240.2 L350.0 240.3 L350.5 240.4 L351.0 240.5 L351.5 240.4 L352.0 240.3 L352.5 240.2 L353.0 240.1 L353.5 240.0 L354.0 239.9 L354.5 239.7 L355.0 239.6 L355.5 238.2 L356.0 232.8 L356.5 231.8 L357.0 231.5 L357.5 231.3 L358.0 230.9 L358.5 230.4 L359.0 229.9 L359.5 229.4 L360.0 228.8 L360.5 228.0 L361.0 227.2 L361.5 226.4 L362.0 225.8 L362.5 225.1 L363.0 224.5 L363.5 224.1 L364.0 223.9 L364.5 223.7 L365.0 223.3 L365.5 222.6 L366.0 221.8 L366.5 221.1 L367.0 220.6 L367.5 220.5 L368.0 220.4 L368.5 220.3 L369.0 220.2 L369.5 220.1 L370.0 220.0 L370.5 219.9 L371.0 219.8 L371.5 219.7 L372.0 219.7 L372.5 219.8 L373.0 219.9 L373.5 220.0 L374.0 220.1 L374.5 220.2 L375.0 220.3 L375.5 220.4 L376.0 220.6 L376.5 220.5 L377.0 220.3 L377.5 220.0 L378.0 219.8 L378.5 219.6 L379.0 219.6 L379.5 219.6 L380.0 219.6 L380.5 220.0 L381.0 220.7 L381.5 221.3 L382.0 221.7 L382.5 221.7 L383.0 221.8 L383.5 221.9 L384.0 221.8 L384.5 221.5 L385.0 221.2 L385.5 221.0 L386.0 220.9 L386.5 220.8 L387.0 220.7 L387.5 219.7 L388.0 218.2 L388.5 216.7 L389.0 216.0 L389.5 215.9 L390.0 215.7 L390.5 216.7 L391.0 218.2 L391.5 219.5 L392.0 220.4 L392.5 221.1 L393.0 221.3 L393.5 221.5 L394.0 221.6 L394.5 221.1 L395.0 220.5 L395.5 219.8 L396.0 219.5 L396.5 219.3 L397.0 219.1 L397.5 218.9 L398.0 218.7 L398.5 218.4 L399.0 218.0 L399.5 217.6 L400.0 217.2 L400.5 216.5 L401.0 215.7 L401.5 214.8 L402.0 214.5 L402.5 214.2 L403.0 214.0 L403.5 213.7 L404.0 213.6 L404.5 213.6 L405.0 213.5 L405.5 213.4 L406.0 213.4 L406.5 213.4 L407.0 213.5 L407.5 213.5 L408.0 213.6 L408.5 213.7 L409.0 214.0 L409.5 214.5 L410.0 214.9 L410.5 215.5 L411.0 216.5 L411.5 217.6 L412.0 217.7 L412.5 217.8 L413.0 217.9 L413.5 217.9 L414.0 219.7 L414.5 221.5 L415.0 223.3 L415.5 225.0 L416.0 225.2 L416.5 225.3 L417.0 225.5 L417.5 225.6 L418.0 225.5 L418.5 225.3 L419.0 225.2 L419.5 225.1 L420.0 224.3 L420.5 223.6 L421.0 223.6 L421.5 223.6 L422.0 223.6 L422.5 223.6 L423.0 223.7 L423.5 224.9 L424.0 226.2 L424.5 227.0 L425.0 227.8 L425.5 228.6 L426.0 229.0 L426.5 229.4 L427.0 229.7 L427.5 229.9 L428.0 228.4 L428.5 227.1 L429.0 226.9 L429.5 226.7 L430.0 226.8 L430.5 228.6 L431.0 230.2 L431.5 231.4 L432.0 232.6 L432.5 233.6 L433.0 234.0 L433.5 234.5 L434.0 234.9 L434.5 235.3 L435.0 235.7 L435.5 236.2 L436.0 237.0 L436.5 237.8 L437.0 238.7 L437.5 239.3 L438.0 239.9 L438.5 240.5 L439.0 241.2 L439.5 242.2 L440.0 243.2 L440.5 244.3 L441.0 246.0 L441.5 247.6 L442.0 249.3 L442.5 251.1 L443.0 253.0 L443.5 254.3 L444.0 253.1 L444.5 252.0 L445.0 251.9 L445.5 251.8 L446.0 251.6 L446.5 251.5 L447.0 251.5 L447.5 251.4 L448.0 251.3 L448.5 251.3 L449.0 251.2 L449.5 251.0 L450.0 250.8 L450.5 250.7 L451.0 250.2 L451.5 249.1 L452.0 247.9 L452.5 246.9 L453.0 246.4 L453.5 245.9 L454.0 245.4 L454.5 241.9 L455.0 234.0 L455.5 233.6 L456.0 233.2 L456.5 232.9 L457.0 232.9 L457.5 232.8 L458.0 232.7 L458.5 232.7 L459.0 232.7 L459.5 232.8 L460.0 232.9 L460.5 233.1 L461.0 233.5 L461.5 234.3 L462.0 235.1 L462.5 235.6 L463.0 235.5 L463.5 235.3 L464.0 235.2 L464.5 235.3 L465.0 235.8 L465.5 236.3 L466.0 239.8 L466.5 244.1 L467.0 244.1 L467.5 244.1 L468.0 244.1 L468.5 240.4 L469.0 235.7 L469.5 234.9 L470.0 234.1 L470.5 233.5 L471.0 233.3 L471.5 233.0 L472.0 232.8 L472.5 232.8 L473.0 233.0 L473.5 233.3 L474.0 233.5 L474.5 234.6 L475.0 236.3 L475.5 238.2 L476.0 240.2 L476.5 242.2 L477.0 242.0 L477.5 240.0 L478.0 239.0 L478.5 238.8 L479.0 238.6 L479.5 238.4 L480.0 238.2 L480.5 238.1 L481.0 237.9 L481.5 237.8 L482.0 237.7 L482.5 237.2 L483.0 236.6 L483.5 236.0 L484.0 235.3 L484.5 234.8 L485.0 234.4 L485.5 233.9 L486.0 233.5 L486.5 233.3 L487.0 233.2 L487.5 233.1 L488.0 233.0 L488.5 233.3 L489.0 233.9 L489.5 234.5 L490.0 235.1 L490.5 235.8 L491.0 236.4 L491.5 237.5 L492.0 238.6 L492.5 239.8 L493.0 239.8 L493.5 239.4 L494.0 239.1 L494.5 238.7 L495.0 238.4 L495.5 238.2 L496.0 237.9 L496.5 237.7 L497.0 236.2 L497.5 234.5 L498.0 232.3 L498.5 230.1 L499.0 229.4 L499.5 229.1 L500.0 228.7 L500.5 229.1 L501.0 229.6 L501.5 230.1 L502.0 229.9 L502.5 229.5 L503.0 229.2 L503.5 229.1 L504.0 228.9 L504.5 228.8 L505.0 228.7 L505.5 229.1 L506.0 229.6 L506.5 230.1 L507.0 234.8 L507.5 238.2 L508.0 238.3 L508.5 238.5 L509.0 238.6 L509.5 238.9 L510.0 239.3 L510.5 239.6 L511.0 241.8 L511.5 244.0 L512.0 241.2 L512.5 238.3 L513.0 236.7 L513.5 236.0 L514.0 235.3 L514.5 234.6 L515.0 234.5 L515.5 234.4 L516.0 234.3 L516.5 234.2 L517.0 234.7 L517.5 235.2 L518.0 235.7 L518.5 236.1 L519.0 235.4 L519.5 234.8 L520.0 234.1 L520.5 233.3 L521.0 232.6 L521.5 231.8 L522.0 231.1 L522.5 230.8 L523.0 230.5 L523.5 230.2 L524.0 230.0 L524.5 230.3 L525.0 230.6 L525.5 230.9 L526.0 231.4 L526.5 232.7 L527.0 234.0 L527.5 235.1 L528.0 235.2 L528.5 235.3 L529.0 235.3 L529.5 235.4 L530.0 235.4 L530.5 235.5 L531.0 235.4 L531.5 233.1 L532.0 231.1 L532.5 230.9 L533.0 230.7 L533.5 230.6 L534.0 231.3 L534.5 232.0 L535.0 232.5 L535.5 232.4 L536.0 232.3 L536.5 232.2 L537.0 231.9 L537.5 231.1 L538.0 230.3 L538.5 229.6 L539.0 229.6 L539.5 229.6 L540.0 229.6 L540.5 228.8 L541.0 224.9 L541.5 224.0 L542.0 223.9 L542.5 223.7 L543.0 223.2 L543.5 221.2 L544.0 219.5 L544.5 219.2 L545.0 218.8 L545.5 218.4 L546.0 218.0 L546.5 217.5 L547.0 217.0 L547.5 216.2 L548.0 214.4 L548.5 212.7 L549.0 210.9 L549.5 209.6 L550.0 209.2 L550.5 208.8 L551.0 208.4 L551.5 208.9 L552.0 209.4 L552.5 210.4 L553.0 212.7 L553.5 215.0 L554.0 217.5 L554.5 220.1 L555.0 222.9 L555.5 224.7 L556.0 224.9 L556.5 225.2 L557.0 225.4 L557.5 225.5 L558.0 225.3 L558.5 225.0 L559.0 224.8 L559.5 224.7 L560.0 224.8 L560.5 224.9 L561.0 225.0 L561.5 225.3 L562.0 225.8 L562.5 226.3 L563.0 229.1 L563.5 232.4 L564.0 233.3 L564.5 234.1 L565.0 236.4 L565.5 240.2 L566.0 243.8 L566.5 245.3 L567.0 246.8 L567.5 248.1 L568.0 247.7 L568.5 247.3 L569.0 247.0 L569.5 246.7 L570.0 246.4 L570.5 246.2 L571.0 246.7 L571.5 247.2 L572.0 247.8 L572.5 248.6 L573.0 249.5 L573.5 249.8 L574.0 247.3 L574.5 245.1 L575.0 244.8 L575.5 244.5 L576.0 244.2 L576.5 244.5 L577.0 244.8 L577.5 245.5 L578.0 248.1 L578.5 250.4 L579.0 251.6 L579.5 252.8 L580.0 253.7 L580.5 253.8 L581.0 253.9 L581.5 254.0 L582.0 254.2 L582.5 254.6 L583.0 255.0 L583.5 255.4 L584.0 255.8 L584.5 256.3 L585.0 256.8 L585.5 257.3 L586.0 257.6 L586.5 257.5 L587.0 257.3 L587.5 257.2 L588.0 256.9 L588.5 256.3 L589.0 256.0 L589.5 256.2 L590.0 256.5 L590.5 257.3 L591.0 259.0 L591.5 260.3 L592.0 260.8 L592.5 261.3 L593.0 262.7 L593.5 265.4 L594.0 267.2 L594.5 267.6 L595.0 268.0 L595.5 268.3 L596.0 269.1 L596.5 270.5 L597.0 271.8 L597.5 272.9 L598.0 273.7 L598.5 274.6 L599.0 276.1 L599.5 278.3 L600.0 279.5 L600.5 279.7 L601.0 279.8 L601.5 279.9 L602.0 279.8 L602.5 279.5 L603.0 279.2 L603.5 278.9 L604.0 278.7 L604.5 278.4 L605.0 278.2 L605.5 278.0 L606.0 271.6 L606.5 268.3 L607.0 267.9 L607.5 267.4 L608.0 267.4 L608.5 267.8 L609.0 268.1 L609.5 268.4 L610.0 269.1 L610.5 270.1 L611.0 271.1 L611.5 271.8 L612.0 272.1 L612.5 272.5 L613.0 272.9 L613.5 272.8 L614.0 272.5 L614.5 272.1 L615.0 268.9 L615.5 264.2 L616.0 262.0 L616.5 261.2 L617.0 260.8 L617.5 261.6 L618.0 262.7 L618.5 266.2 L619.0 274.2 L619.5 278.7 L620.0 282.4 L620.5 283.6 L621.0 284.7 L621.5 285.5 L622.0 285.0 L622.5 284.5 L623.0 282.2 L623.5 277.0 L624.0 276.5 L624.5 276.0 L625.0 275.8 L625.5 276.5 L626.0 277.1 L626.5 280.6 L627.0 283.2 L627.5 283.6 L628.0 284.0 L628.5 284.3 L629.0 284.6 L629.5 284.6 L630.0 284.6 L630.5 284.8 L631.0 285.4 L631.5 286.1 L632.0 286.7 L632.5 287.1 L633.0 287.1 L633.5 287.1 L634.0 287.1 L634.5 287.0 L635.0 286.7 L635.5 286.5 L636.0 286.2 L636.5 284.8 L637.0 281.8 L637.5 279.2 L638.0 277.2 L638.5 276.0 L639.0 275.7 L639.5 275.3 L640.0 275.5 L640.5 276.1 L641.0 276.8 L641.5 275.2 L642.0 271.2 L642.5 269.0 L643.0 268.6 L643.5 268.2 L644.0 268.6 L644.5 269.7 L645.0 271.7 L645.5 274.4 L646.0 280.3 L646.5 284.2 L647.0 284.3 L647.5 284.4 L648.0 284.5 L648.5 284.5 L649.0 284.3 L649.5 284.2 L650.0 282.8 L650.5 280.5 L651.0 279.5 L651.5 279.2 L652.0 279.0 L652.5 279.1 L653.0 279.3 L653.5 279.5 L654.0 279.4 L654.5 279.1 L655.0 278.7 L655.5 279.1 L656.0 279.9 L656.5 281.0 L657.0 286.4 L657.5 288.5 L658.0 289.2 L658.5 289.9 L659.0 291.6 L659.5 293.9 L660.0 294.6 L660.5 294.7 L661.0 294.9 L661.5 295.0 L662.0 294.5 L662.5 293.9 L663.0 293.2 L663.5 292.9 L664.0 292.7 L664.5 292.6 L665.0 293.1 L665.5 293.7 L666.0 294.4 L666.5 294.9 L667.0 295.4 L667.5 295.9 L668.0 296.4 L668.5 298.8 L669.0 301.5 L669.5 304.5 L670.0 307.5 L670.5 308.5 L671.0 309.2 L671.5 309.8 L672.0 310.0 L672.5 310.0 L673.0 310.0 L673.5 310.0 L674.0 310.0 L674.5 310.1 L675.0 310.1 L675.5 310.2 L675.5 312.6 L675.0 312.5 L674.5 312.5 L674.0 312.4 L673.5 312.4 L673.0 312.4 L672.5 312.4 L672.0 312.4 L671.5 312.4 L671.0 312.3 L670.5 312.3 L670.0 312.3 L669.5 312.2 L669.0 311.7 L668.5 311.3 L668.0 310.5 L667.5 308.3 L667.0 306.2 L666.5 304.9 L666.0 303.5 L665.5 302.0 L665.0 299.8 L664.5 298.4 L664.0 300.2 L663.5 302.0 L663.0 304.3 L662.5 306.0 L662.0 306.2 L661.5 306.3 L661.0 306.2 L660.5 305.2 L660.0 304.2 L659.5 303.3 L659.0 302.6 L658.5 302.0 L658.0 299.1 L657.5 293.3 L657.0 292.7 L656.5 292.0 L656.0 291.8 L655.5 292.4 L655.0 293.1 L654.5 293.7 L654.0 294.2 L653.5 294.7 L653.0 294.7 L652.5 293.7 L652.0 292.7 L651.5 291.9 L651.0 291.1 L650.5 290.4 L650.0 289.9 L649.5 289.4 L649.0 289.0 L648.5 288.8 L648.0 288.6 L647.5 288.4 L647.0 288.2 L646.5 287.9 L646.0 287.5 L645.5 287.1 L645.0 286.6 L644.5 283.5 L644.0 281.8 L643.5 282.3 L643.0 282.8 L642.5 283.3 L642.0 283.7 L641.5 284.0 L641.0 284.4 L640.5 284.6 L640.0 284.6 L639.5 284.6 L639.0 284.6 L638.5 285.8 L638.0 288.0 L637.5 289.7 L637.0 290.9 L636.5 292.0 L636.0 292.8 L635.5 293.1 L635.0 293.5 L634.5 293.9 L634.0 293.6 L633.5 293.0 L633.0 292.3 L632.5 291.7 L632.0 291.2 L631.5 290.7 L631.0 290.2 L630.5 290.0 L630.0 289.9 L629.5 289.7 L629.0 289.6 L628.5 289.6 L628.0 289.8 L627.5 289.9 L627.0 290.0 L626.5 289.3 L626.0 288.1 L625.5 286.9 L625.0 286.9 L624.5 287.4 L624.0 287.9 L623.5 288.4 L623.0 288.9 L622.5 289.4 L622.0 289.9 L621.5 290.2 L621.0 290.5 L620.5 290.7 L620.0 291.0 L619.5 290.4 L619.0 289.6 L618.5 288.7 L618.0 284.8 L617.5 280.7 L617.0 278.2 L616.5 276.9 L616.0 278.3 L615.5 279.6 L615.0 280.6 L614.5 280.9 L614.0 281.3 L613.5 281.0 L613.0 279.8 L612.5 278.8 L612.0 278.1 L611.5 277.5 L611.0 276.9 L610.5 276.9 L610.0 277.8 L609.5 278.7 L609.0 279.4 L608.5 279.5 L608.0 279.7 L607.5 279.9 L607.0 280.1 L606.5 280.5 L606.0 280.9 L605.5 281.3 L605.0 282.5 L604.5 284.7 L604.0 286.4 L603.5 287.4 L603.0 288.4 L602.5 288.9 L602.0 288.9 L601.5 288.9 L601.0 288.9 L600.5 288.5 L600.0 287.7 L599.5 286.8 L599.0 285.6 L598.5 283.9 L598.0 282.2 L597.5 281.2 L597.0 280.7 L596.5 280.2 L596.0 278.4 L595.5 275.7 L595.0 274.0 L594.5 273.2 L594.0 272.4 L593.5 271.1 L593.0 269.6 L592.5 268.1 L592.0 266.7 L591.5 265.4 L591.0 264.1 L590.5 264.0 L590.0 264.7 L589.5 265.3 L589.0 266.1 L588.5 267.0 L588.0 267.9 L587.5 268.8 L587.0 268.9 L586.5 268.6 L586.0 268.4 L585.5 268.1 L585.0 267.7 L584.5 267.2 L584.0 266.7 L583.5 266.2 L583.0 265.5 L582.5 264.8 L582.0 264.0 L581.5 263.3 L581.0 262.7 L580.5 262.2 L580.0 261.7 L579.5 260.9 L579.0 260.0 L578.5 259.2 L578.0 258.3 L577.5 257.3 L577.0 256.3 L576.5 255.3 L576.0 254.9 L575.5 254.5 L575.0 254.2 L574.5 254.7 L574.0 255.3 L573.5 256.0 L573.0 256.3 L572.5 256.6 L572.0 256.8 L571.5 257.1 L571.0 256.1 L570.5 254.9 L570.0 253.8 L569.5 255.2 L569.0 256.9 L568.5 257.4 L568.0 257.7 L567.5 258.1 L567.0 257.0 L566.5 255.9 L566.0 254.7 L565.5 252.4 L565.0 250.0 L564.5 247.6 L564.0 245.1 L563.5 242.6 L563.0 240.1 L562.5 237.6 L562.0 235.1 L561.5 232.6 L561.0 231.0 L560.5 230.0 L560.0 229.6 L559.5 229.8 L559.0 229.9 L558.5 230.0 L558.0 232.2 L557.5 233.7 L557.0 234.1 L556.5 234.4 L556.0 233.9 L555.5 232.9 L555.0 231.9 L554.5 231.5 L554.0 231.4 L553.5 231.2 L553.0 231.1 L552.5 226.7 L552.0 218.6 L551.5 215.4 L551.0 215.0 L550.5 215.4 L550.0 217.9 L549.5 219.1 L549.0 219.8 L548.5 220.4 L548.0 220.8 L547.5 221.1 L547.0 221.4 L546.5 221.7 L546.0 222.0 L545.5 222.6 L545.0 223.3 L544.5 223.9 L544.0 225.3 L543.5 226.8 L543.0 228.3 L542.5 230.1 L542.0 232.1 L541.5 233.9 L541.0 235.7 L540.5 236.2 L540.0 236.4 L539.5 236.6 L539.0 236.8 L538.5 237.0 L538.0 237.2 L537.5 237.5 L537.0 237.7 L536.5 238.0 L536.0 238.0 L535.5 238.0 L535.0 238.0 L534.5 238.0 L534.0 238.2 L533.5 238.5 L533.0 238.7 L532.5 239.0 L532.0 239.2 L531.5 239.5 L531.0 239.7 L530.5 240.0 L530.0 240.1 L529.5 240.2 L529.0 240.3 L528.5 240.4 L528.0 240.5 L527.5 240.6 L527.0 239.5 L526.5 238.2 L526.0 236.8 L525.5 235.9 L525.0 235.1 L524.5 234.2 L524.0 234.4 L523.5 234.6 L523.0 234.9 L522.5 235.1 L522.0 235.8 L521.5 236.5 L521.0 237.3 L520.5 238.0 L520.0 239.2 L519.5 240.3 L519.0 241.5 L518.5 241.6 L518.0 241.6 L517.5 241.6 L517.0 241.6 L516.5 241.0 L516.0 240.3 L515.5 239.6 L515.0 240.6 L514.5 241.6 L514.0 242.6 L513.5 247.3 L513.0 252.0 L512.5 252.2 L512.0 252.4 L511.5 251.7 L511.0 249.7 L510.5 247.6 L510.0 245.6 L509.5 243.7 L509.0 246.5 L508.5 249.0 L508.0 249.0 L507.5 249.0 L507.0 249.0 L506.5 247.2 L506.0 243.0 L505.5 236.2 L505.0 233.7 L504.5 233.2 L504.0 232.8 L503.5 233.9 L503.0 235.1 L502.5 236.1 L502.0 236.1 L501.5 236.1 L501.0 236.0 L500.5 235.0 L500.0 234.3 L499.5 235.5 L499.0 236.7 L498.5 238.1 L498.0 241.1 L497.5 243.6 L497.0 243.7 L496.5 243.8 L496.0 243.8 L495.5 243.9 L495.0 244.0 L494.5 244.2 L494.0 244.5 L493.5 244.9 L493.0 245.3 L492.5 245.6 L492.0 245.9 L491.5 246.2 L491.0 246.5 L490.5 245.0 L490.0 242.7 L489.5 240.7 L489.0 239.4 L488.5 238.0 L488.0 237.1 L487.5 237.1 L487.0 237.1 L486.5 237.1 L486.0 237.4 L485.5 238.4 L485.0 239.4 L484.5 240.2 L484.0 240.4 L483.5 240.7 L483.0 241.0 L482.5 241.2 L482.0 241.4 L481.5 241.4 L481.0 241.5 L480.5 241.5 L480.0 241.6 L479.5 242.0 L479.0 243.0 L478.5 244.0 L478.0 245.7 L477.5 248.5 L477.0 250.0 L476.5 250.0 L476.0 250.0 L475.5 249.9 L475.0 246.4 L474.5 242.9 L474.0 239.4 L473.5 237.6 L473.0 237.6 L472.5 237.6 L472.0 237.6 L471.5 239.1 L471.0 242.1 L470.5 244.3 L470.0 245.8 L469.5 246.7 L469.0 247.0 L468.5 247.3 L468.0 247.6 L467.5 247.9 L467.0 247.8 L466.5 247.3 L466.0 246.8 L465.5 246.3 L465.0 245.8 L464.5 245.3 L464.0 244.8 L463.5 241.6 L463.0 239.4 L462.5 239.1 L462.0 238.7 L461.5 240.3 L461.0 243.1 L460.5 244.1 L460.0 244.1 L459.5 244.1 L459.0 244.1 L458.5 242.3 L458.0 239.5 L457.5 240.3 L457.0 242.8 L456.5 244.9 L456.0 246.0 L455.5 247.1 L455.0 248.2 L454.5 249.7 L454.0 251.4 L453.5 253.4 L453.0 256.1 L452.5 258.0 L452.0 258.0 L451.5 258.0 L451.0 258.0 L450.5 258.0 L450.0 261.3 L449.5 264.1 L449.0 264.1 L448.5 264.0 L448.0 264.0 L447.5 260.4 L447.0 258.3 L446.5 258.0 L446.0 257.7 L445.5 260.3 L445.0 267.2 L444.5 268.3 L444.0 268.2 L443.5 268.1 L443.0 268.0 L442.5 264.1 L442.0 263.2 L441.5 262.8 L441.0 262.5 L440.5 262.2 L440.0 262.0 L439.5 261.7 L439.0 261.5 L438.5 247.2 L438.0 244.7 L437.5 243.7 L437.0 243.5 L436.5 243.3 L436.0 243.2 L435.5 243.1 L435.0 242.3 L434.5 241.5 L434.0 240.7 L433.5 239.9 L433.0 239.2 L432.5 238.8 L432.0 238.6 L431.5 238.3 L431.0 238.1 L430.5 237.2 L430.0 236.2 L429.5 235.2 L429.0 234.9 L428.5 234.8 L428.0 234.7 L427.5 234.6 L427.0 234.5 L426.5 234.5 L426.0 234.5 L425.5 234.5 L425.0 234.5 L424.5 233.9 L424.0 233.3 L423.5 232.6 L423.0 231.3 L422.5 230.0 L422.0 228.6 L421.5 229.2 L421.0 229.9 L420.5 230.5 L420.0 232.3 L419.5 234.0 L419.0 234.0 L418.5 234.0 L418.0 234.0 L417.5 234.0 L417.0 232.8 L416.5 231.6 L416.0 231.2 L415.5 230.8 L415.0 230.4 L414.5 230.0 L414.0 229.5 L413.5 229.0 L413.0 228.2 L412.5 222.6 L412.0 222.4 L411.5 222.3 L411.0 222.0 L410.5 220.8 L410.0 219.5 L409.5 218.3 L409.0 217.2 L408.5 217.3 L408.0 217.4 L407.5 217.5 L407.0 217.7 L406.5 218.2 L406.0 218.7 L405.5 219.0 L405.0 218.3 L404.5 217.7 L404.0 217.8 L403.5 217.9 L403.0 218.0 L402.5 218.3 L402.0 219.1 L401.5 220.0 L401.0 220.8 L400.5 221.4 L400.0 222.1 L399.5 222.9 L399.0 224.0 L398.5 225.2 L398.0 226.1 L397.5 226.2 L397.0 226.4 L396.5 226.5 L396.0 226.8 L395.5 227.6 L395.0 228.5 L394.5 228.6 L394.0 227.1 L393.5 225.7 L393.0 224.6 L392.5 223.5 L392.0 222.8 L391.5 222.4 L391.0 222.2 L390.5 222.3 L390.0 222.8 L389.5 223.3 L389.0 224.5 L388.5 227.0 L388.0 228.6 L387.5 228.6 L387.0 228.7 L386.5 228.7 L386.0 228.8 L385.5 228.7 L385.0 228.5 L384.5 228.4 L384.0 228.2 L383.5 226.6 L383.0 224.6 L382.5 224.6 L382.0 224.6 L381.5 224.6 L381.0 224.6 L380.5 224.5 L380.0 224.4 L379.5 224.3 L379.0 224.2 L378.5 224.1 L378.0 224.1 L377.5 224.1 L377.0 224.1 L376.5 224.1 L376.0 224.1 L375.5 224.0 L375.0 223.9 L374.5 223.8 L374.0 223.7 L373.5 223.6 L373.0 223.6 L372.5 223.6 L372.0 223.6 L371.5 223.6 L371.0 224.2 L370.5 225.2 L370.0 226.3 L369.5 227.6 L369.0 228.1 L368.5 228.1 L368.0 228.1 L367.5 228.1 L367.0 229.0 L366.5 230.5 L366.0 231.1 L365.5 231.1 L365.0 231.1 L364.5 231.1 L364.0 231.1 L363.5 231.1 L363.0 231.1 L362.5 231.1 L362.0 231.1 L361.5 232.6 L361.0 234.8 L360.5 235.8 L360.0 236.1 L359.5 236.4 L359.0 236.6 L358.5 236.7 L358.0 236.9 L357.5 237.0 L357.0 239.0 L356.5 241.8 L356.0 243.8 L355.5 245.5 L355.0 246.0 L354.5 246.1 L354.0 246.2 L353.5 246.3 L353.0 246.3 L352.5 246.4 L352.0 246.4 L351.5 246.5 L351.0 247.0 L350.5 247.7 L350.0 248.3 L349.5 247.6 L349.0 246.6 L348.5 246.4 L348.0 246.3 L347.5 246.1 L347.0 246.0 L346.5 244.4 L346.0 241.0 L345.5 240.2 L345.0 239.9 L344.5 239.5 L344.0 234.6 L343.5 233.7 L343.0 233.4 L342.5 233.1 L342.0 233.2 L341.5 233.3 L341.0 233.4 L340.5 233.5 L340.0 236.7 L339.5 240.1 L339.0 243.4 L338.5 243.9 L338.0 243.8 L337.5 243.6 L337.0 234.9 L336.5 233.0 L336.0 232.8 L335.5 232.7 L335.0 233.7 L334.5 235.0 L334.0 235.4 L333.5 235.7 L333.0 236.1 L332.5 236.4 L332.0 236.2 L331.5 236.0 L331.0 235.8 L330.5 235.6 L330.0 229.2 L329.5 228.8 L329.0 228.9 L328.5 229.0 L328.0 229.1 L327.5 229.2 L327.0 230.2 L326.5 231.4 L326.0 232.5 L325.5 233.6 L325.0 234.9 L324.5 236.3 L324.0 237.6 L323.5 238.9 L323.0 240.3 L322.5 241.6 L322.0 241.8 L321.5 242.0 L321.0 242.2 L320.5 242.4 L320.0 242.9 L319.5 250.6 L319.0 250.9 L318.5 251.2 L318.0 251.5 L317.5 251.3 L317.0 251.0 L316.5 250.8 L316.0 250.2 L315.5 246.7 L315.0 243.7 L314.5 244.7 L314.0 245.7 L313.5 246.6 L313.0 246.6 L312.5 246.6 L312.0 246.6 L311.5 246.6 L311.0 246.6 L310.5 246.4 L310.0 245.1 L309.5 244.1 L309.0 243.9 L308.5 243.8 L308.0 243.7 L307.5 243.8 L307.0 245.2 L306.5 246.5 L306.0 247.9 L305.5 249.8 L305.0 251.6 L304.5 253.2 L304.0 254.1 L303.5 255.0 L303.0 255.8 L302.5 257.1 L302.0 259.3 L301.5 261.1 L301.0 261.6 L300.5 262.1 L300.0 262.4 L299.5 262.1 L299.0 261.9 L298.5 261.6 L298.0 261.2 L297.5 260.2 L297.0 259.2 L296.5 258.4 L296.0 258.2 L295.5 258.0 L295.0 257.8 L294.5 257.6 L294.0 257.4 L293.5 257.1 L293.0 256.8 L292.5 256.5 L292.0 256.2 L291.5 255.8 L291.0 255.3 L290.5 254.8 L290.0 254.3 L289.5 253.6 L289.0 252.6 L288.5 251.6 L288.0 250.8 L287.5 250.1 L287.0 249.5 L286.5 248.9 L286.0 248.1 L285.5 247.1 L285.0 246.7 L284.5 246.9 L284.0 247.2 L283.5 247.4 L283.0 248.6 L282.5 250.9 L282.0 252.3 L281.5 253.0 L281.0 253.6 L280.5 254.2 L280.0 254.7 L279.5 255.1 L279.0 255.5 L278.5 255.8 L278.0 256.1 L277.5 256.3 L277.0 256.4 L276.5 256.6 L276.0 256.8 L275.5 256.9 L275.0 257.1 L274.5 257.3 L274.0 257.5 L273.5 257.7 L273.0 257.9 L272.5 259.1 L272.0 260.8 L271.5 261.6 L271.0 261.8 L270.5 262.0 L270.0 262.2 L269.5 262.4 L269.0 262.9 L268.5 263.6 L268.0 264.2 L267.5 264.4 L267.0 264.2 L266.5 264.1 L266.0 263.7 L265.5 260.6 L265.0 257.4 L264.5 255.9 L264.0 255.1 L263.5 254.2 L263.0 253.8 L262.5 253.6 L262.0 253.3 L261.5 253.1 L261.0 253.1 L260.5 253.2 L260.0 253.2 L259.5 253.3 L259.0 253.3 L258.5 253.2 L258.0 253.2 L257.5 253.1 L257.0 253.1 L256.5 253.0 L256.0 253.0 L255.5 253.0 L255.0 253.0 L254.5 253.0 L254.0 253.0 L253.5 255.2 L253.0 257.9 L252.5 258.3 L252.0 258.4 L251.5 258.4 L251.0 258.4 L250.5 258.5 L250.0 258.5 L249.5 259.2 L249.0 260.1 L248.5 260.9 L248.0 261.4 L247.5 261.9 L247.0 262.4 L246.5 262.1 L246.0 261.8 L245.5 261.5 L245.0 261.1 L244.5 260.8 L244.0 260.4 L243.5 260.1 L243.0 259.7 L242.5 260.2 L242.0 260.9 L241.5 261.5 L241.0 263.2 L240.5 265.1 L240.0 266.3 L239.5 266.7 L239.0 267.1 L238.5 266.0 L238.0 264.8 L237.5 262.0 L237.0 259.0 L236.5 258.7 L236.0 258.7 L235.5 258.7 L235.0 263.0 L234.5 267.8 L234.0 268.7 L233.5 269.4 L233.0 270.1 L232.5 270.4 L232.0 270.7 L231.5 271.0 L231.0 271.3 L230.5 271.6 L230.0 271.8 L229.5 272.1 L229.0 272.3 L228.5 272.6 L228.0 273.4 L227.5 274.2 L227.0 275.1 L226.5 275.1 L226.0 275.1 L225.5 274.1 L225.0 272.1 L224.5 271.7 L224.0 271.4 L223.5 271.0 L223.0 270.2 L222.5 269.4 L222.0 268.6 L221.5 269.0 L221.0 269.3 L220.5 269.6 L220.0 269.6 L219.5 269.6 L219.0 269.6 L218.5 269.5 L218.0 268.8 L217.5 268.1 L217.0 268.2 L216.5 268.3 L216.0 268.3 L215.5 268.4 L215.0 268.2 L214.5 268.1 L214.0 267.9 L213.5 267.8 L213.0 267.9 L212.5 268.0 L212.0 268.0 L211.5 268.1 L211.0 269.6 L210.5 271.1 L210.0 271.1 L209.5 271.1 L209.0 270.5 L208.5 268.6 L208.0 268.8 L207.5 268.9 L207.0 269.0 L206.5 269.1 L206.0 269.1 L205.5 269.1 L205.0 269.1 L204.5 269.1 L204.0 269.1 L203.5 269.9 L203.0 272.7 L202.5 275.6 L202.0 279.0 L201.5 281.3 L201.0 281.3 L200.5 281.3 L200.0 281.3 L199.5 281.3 L199.0 281.3 L198.5 281.4 L198.0 281.4 L197.5 281.5 L197.0 284.1 L196.5 288.5 L196.0 288.5 L195.5 288.5 L195.0 288.5 L194.5 288.5 L194.0 288.5 L193.5 288.5 L193.0 288.4 L192.5 288.4 L192.0 288.4 L191.5 288.3 L191.0 288.3 L190.5 288.3 L190.0 288.3 L189.5 288.4 L189.0 288.4 L188.5 288.4 L188.0 288.5 L187.5 288.9 L187.0 289.8 L186.5 290.3 L186.0 290.4 L185.5 290.4 L185.0 289.7 L184.5 289.0 L184.0 289.0 L183.5 289.0 L183.0 289.0 L182.5 289.3 L182.0 291.4 L181.5 292.2 L181.0 292.2 L180.5 292.1 L180.0 292.0 L179.5 291.2 L179.0 287.2 L178.5 286.0 L178.0 286.0 L177.5 285.5 L177.0 285.5 L176.5 285.5 L176.0 285.5 L175.5 288.7 L175.0 290.5 L174.5 290.5 L174.0 290.5 L173.5 290.5 L173.0 288.5 L172.5 287.5 L172.0 287.5 L171.5 287.5 L171.0 287.5 L170.5 287.4 L170.0 287.4 L169.5 287.3 L169.0 287.2 L168.5 287.0 L168.0 286.8 L167.5 286.6 L167.0 286.7 L166.5 287.1 L166.0 287.4 L165.5 287.2 L165.0 286.9 L164.5 286.6 L164.0 284.7 L163.5 282.4 L163.0 280.0 L162.5 279.8 L162.0 280.1 L161.5 280.5 L161.0 282.9 L160.5 285.9 L160.0 288.5 L159.5 290.9 L159.0 291.3 L158.5 291.4 L158.0 291.4 L157.5 291.5 L157.0 290.3 L156.5 289.0 L156.0 287.7 L155.5 286.0 L155.0 284.4 L154.5 282.7 L154.0 281.3 L153.5 280.0 L153.0 278.7 L152.5 276.7 L152.0 274.7 L151.5 274.6 L151.0 274.7 L150.5 274.8 L150.0 274.8 L149.5 274.9 L149.0 275.0 L148.5 274.3 L148.0 273.5 L147.5 272.6 L147.0 271.9 L146.5 271.3 L146.0 270.6 L145.5 268.4 L145.0 265.9 L144.5 265.2 L144.0 264.9 L143.5 264.6 L143.0 262.3 L142.5 259.8 L142.0 259.3 L141.5 258.9 L141.0 258.6 L140.5 260.4 L140.0 262.4 L139.5 262.7 L139.0 262.8 L138.5 262.9 L138.0 263.0 L137.5 263.4 L137.0 263.7 L136.5 264.0 L136.0 264.0 L135.5 264.0 L135.0 264.0 L134.5 264.0 L134.0 262.4 L133.5 259.6 L133.0 259.9 L132.5 260.2 L132.0 260.6 L131.5 264.1 L131.0 267.5 L130.5 267.4 L130.0 267.3 L129.5 267.1 L129.0 266.9 L128.5 264.1 L128.0 261.6 L127.5 262.1 L127.0 262.7 L126.5 263.2 L126.0 263.8 L125.5 264.7 L125.0 265.9 L124.5 267.6 L124.0 272.8 L123.5 277.5 L123.0 277.8 L122.5 278.2 L122.0 278.4 L121.5 278.3 L121.0 278.2 L120.5 278.1 L120.0 277.8 L119.5 276.6 L119.0 275.4 L118.5 274.2 L118.0 272.9 L117.5 271.6 L117.0 270.4 L116.5 270.1 L116.0 269.7 L115.5 269.3 L115.0 269.0 L114.5 269.0 L114.0 269.0 L113.5 269.0 L113.0 269.4 L112.5 270.9 L112.0 272.0 L111.5 272.0 L111.0 272.0 L110.5 272.0 L110.0 265.2 L109.5 259.0 L109.0 257.0 L108.5 255.6 L108.0 255.8 L107.5 256.0 L107.0 256.3 L106.5 256.9 L106.0 257.5 L105.5 258.2 L105.0 260.6 L104.5 264.6 L104.0 264.9 L103.5 264.6 L103.0 263.3 L102.5 262.5 L102.0 262.4 L101.5 262.3 L101.0 262.1 L100.5 262.2 L100.0 262.4 L99.5 262.7 L99.0 262.9 L98.5 263.1 L98.0 263.2 L97.5 263.4 L97.0 263.5 L96.5 264.5 L96.0 266.8 L95.5 268.0 L95.0 268.0 L94.5 268.0 L94.0 267.6 L93.5 266.6 L93.0 265.6 L92.5 270.3 L92.0 273.0 L91.5 273.0 L91.0 273.0 L90.5 272.7 L90.0 272.2 L89.5 271.7 L89.0 271.6 L88.5 271.7 L88.0 271.8 L87.5 271.9 L87.0 272.1 L86.5 272.4 L86.0 272.6 L85.5 272.9 L85.0 273.0 L84.5 273.0 L84.0 273.0 L83.5 271.9 L83.0 266.6 L82.5 264.5 L82.0 264.5 L81.5 264.5 L81.0 264.5 L80.5 263.0 L80.0 260.5 L79.5 256.7 L79.0 252.2 L78.5 250.8 L78.0 251.0 L77.5 251.5 L77.0 252.0 L76.5 252.5 L76.0 251.9 L75.5 250.9 L75.0 249.9 L74.5 249.2 L74.0 248.5 L73.5 247.8 L73.0 247.8 L72.5 247.9 L72.0 248.1 L71.5 250.2 L71.0 252.9 L70.5 254.2 L70.0 255.1 L69.5 255.9 L69.0 257.0 L68.5 258.2 L68.0 259.3 L67.5 263.1 L67.0 267.6 L66.5 269.1 L66.0 269.9 L65.5 270.6 L65.0 271.4 L64.5 272.2 L64.0 273.0 L63.5 273.9 L63.0 274.3 L62.5 274.6 L62.0 274.9 L61.5 275.5 L61.0 277.0 L60.5 278.1 L60.0 278.3 L59.5 278.4 L59.0 278.5 L58.5 278.5 L58.0 278.2 L57.5 277.8 L57.0 275.6 L56.5 270.2 L56.0 267.4 L55.5 265.5 L55.0 265.5 L54.5 265.6 L54.0 265.6 L53.5 266.2 L53.0 267.7 L52.5 268.8 L52.0 269.0 L51.5 269.3 L51.0 269.1 L50.5 268.2 L50.0 267.8 L49.5 268.2 L49.0 268.6 L48.5 271.3 L48.0 274.6 L47.5 276.4 L47.0 276.3 L46.5 276.3 L46.0 276.2 L45.5 276.2 L45.0 276.1 L44.5 273.7 L44.0 272.2 L43.5 272.3 L43.0 272.4 L42.5 272.6 L42.0 273.0 L41.5 273.6 L41.0 274.3 L40.5 275.9 L40.0 278.4 L39.5 281.5 L39.0 285.1 L38.5 285.3 L38.0 285.2 L37.5 285.1 L37.0 284.0 L36.5 282.0 L36.0 281.0 L35.5 280.8 L35.0 280.7 L34.5 280.6 L34.0 280.7 L33.5 280.8 L33.0 280.9 L32.5 281.0 L32.0 281.9 L31.5 283.1 L31.0 287.3 L30.5 293.3 L30.0 299.0 L29.5 301.0 L29.0 301.0 L28.5 301.0 L28.0 300.3 L27.5 299.4 L27.0 299.2 L26.5 306.5 L26.0 306.8 L25.5 307.1 L25.0 307.3 L24.5 307.0 L24.0 306.5 L23.5 305.9 L23.0 304.1 L22.5 293.4 L22.0 290.2 L21.5 289.7 L21.0 289.2 L20.5 289.0 L20.0 289.0 L19.5 289.0 L19.0 289.0 L18.5 289.0 L18.0 288.8 L17.5 288.6 L17.0 288.3 L16.5 288.1 L16.0 288.1 L15.5 288.3 L15.0 288.4 L14.5 288.5 L14.0 289.3 L13.5 290.1 L13.0 291.0 L12.5 291.9 L12.0 292.9 L11.5 293.9 L11.0 294.9 L10.5 295.0 L10.0 295.0 L9.5 295.0 L9.0 293.0 L8.5 290.8 L8.0 287.8 L7.5 284.8 L7.0 284.3 L6.5 283.9 L6.0 283.6 L5.5 285.9 L5.0 288.4 L4.5 289.2 L4.0 290.0 L3.5 290.7 L3.0 291.5 L2.5 296.3 L2.0 301.3 L1.5 303.9 L1.0 306.4 L0.5 306.7 L0.0 306.9 Z" fill="#4b0082" stroke="#4b0082" stroke-width="0.3" stroke-linejoin="round"/>
<text x="45" y="471.6" text-anchor="middle" class="ax">09:20</text><text x="206" y="471.6" text-anchor="middle" class="ax">10:35</text><text x="365" y="471.6" text-anchor="middle" class="ax">12:20</text><text x="518.5" y="471.6" text-anchor="middle" class="ax">14:20</text><text x="675" y="471.6" text-anchor="middle" class="ax">16:35</text>
<text x="683" y="249" class="ax">1328</text><text x="683" y="317" class="ax">1320</text><text x="683" y="383.7" class="ax">1312</text><text x="683" y="452" class="ax">1304</text>
<rect x="0" y="497.2" width="674.7" height="37.9" fill="#dfdfdf"/>
<path d="M0.00 525.58 L2.09 523.49 L4.87 521.75 L6.96 526.97 L10.79 526.10 L13.57 522.62 L16.53 520.36 L20.87 519.66 L25.75 517.05 L27.83 518.27 L33.05 516.53 L36.18 519.66 L40.01 518.27 L43.84 510.96 L47.84 511.66 L52.19 517.40 L55.67 516.01 L60.01 515.14 L62.62 512.70 L65.23 513.05 L67.84 516.88 L73.06 520.36 L76.54 514.79 L80.37 513.57 L82.63 515.31 L85.24 513.92 L90.11 519.14 L93.07 517.05 L96.55 520.01 L100.02 523.49 L102.63 521.23 L105.24 520.53 L108.72 522.10 L113.07 522.62 L116.90 522.10 L120.90 523.84 L126.12 522.62 L129.60 523.84 L133.95 523.49 L139.17 520.01 L142.99 517.40 L147.86 517.05 L153.08 516.88 L158.30 517.40 L163.52 517.05 L167.00 519.14 L170.13 518.27 L172.61 513.92 L174.35 516.01 L177.83 514.79 L181.31 515.31 L183.92 514.44 L186.53 512.18 L190.87 512.53 L195.22 512.18 L197.83 515.14 L201.31 513.57 L203.92 515.14 L208.27 514.44 L213.14 513.57 L216.62 510.44 L218.71 510.79 L221.32 513.05 L227.41 514.44 L232.62 513.92 L235.76 514.79 L238.71 512.18 L242.19 509.22 L246.54 509.57 L249.15 508.70 L251.76 510.44 L256.98 508.35 L259.07 512.18 L262.20 509.92 L265.68 509.05 L270.02 506.96 L275.24 505.57 L277.85 507.31 L280.46 506.44 L282.72 508.35 L285.16 506.44 L290.03 510.09 L295.25 510.79 L301.34 506.09 L307.43 504.88 L311.77 503.14 L317.86 503.83 L321.34 503.83 L323.95 504.88 L328.30 502.61 L331.78 504.35 L336.13 503.48 L340.48 501.74 L343.48 501.40 L346.96 501.74 L350.44 504.70 L354.79 507.49 L358.79 504.70 L362.61 506.96 L366.96 506.09 L369.57 507.83 L372.18 507.49 L374.79 509.05 L379.14 510.44 L383.49 516.01 L386.62 516.53 L388.71 513.05 L392.19 513.05 L395.32 515.66 L397.41 513.05 L399.15 514.27 L401.75 512.53 L405.76 511.31 L408.71 507.49 L411.32 509.22 L413.93 507.83 L417.41 508.70 L420.37 511.66 L423.15 509.22 L425.24 507.49 L429.07 512.18 L434.81 509.57 L440.02 508.70 L444.37 507.49 L449.59 510.44 L454.81 509.57 L459.16 509.92 L461.77 506.09 L465.25 506.96 L469.60 506.09 L471.34 511.31 L473.95 509.92 L479.17 512.18 L483.51 507.83 L486.99 508.70 L490.47 508.70 L494.82 506.44 L498.30 506.96 L502.65 509.05 L508.74 508.70 L513.48 506.62 L516.96 507.31 L519.57 508.70 L522.18 506.96 L525.66 506.44 L529.14 503.48 L533.48 501.22 L536.96 500.35 L539.57 501.74 L542.70 506.44 L546.53 505.57 L550.88 504.88 L554.36 507.83 L558.36 514.79 L561.32 511.83 L563.93 513.92 L566.54 513.57 L570.01 510.96 L574.36 514.44 L578.71 515.66 L582.19 517.75 L584.80 517.40 L586.54 515.14 L590.02 516.88 L594.37 519.66 L596.98 520.53 L599.59 523.49 L603.07 522.62 L605.68 520.53 L608.29 519.66 L611.76 520.36 L615.24 520.53 L617.50 521.75 L620.46 517.40 L623.07 522.62 L626.20 524.88 L629.16 522.62 L631.77 523.84 L636.12 524.88 L640.47 525.58 L643.60 521.75 L646.56 520.53 L649.17 523.84 L651.77 523.49 L654.38 522.97 L656.99 526.62 L660.47 527.49 L663.08 531.32 L673.87 531.67 L673.87 535 L0 535 Z" fill="url(#gn)"/>
<rect x="89.0" y="497" width="1" height="38" fill="#cacaca"/><rect x="273.0" y="497" width="1" height="38" fill="#cacaca"/><rect x="459.0" y="497" width="1" height="38" fill="#cacaca"/><rect x="643.0" y="497" width="1" height="38" fill="#cacaca"/>
<text x="93" y="531" class="nv">10:00</text><text x="277.3" y="531" class="nv">12:00</text><text x="462.8" y="531" class="nv">14:00</text><text x="648.3" y="531" class="nv">16:00</text>
<path d="M0.00 525.58 L2.09 523.49 L4.87 521.75 L6.96 526.97 L10.79 526.10 L13.57 522.62 L16.53 520.36 L20.87 519.66 L25.75 517.05 L27.83 518.27 L33.05 516.53 L36.18 519.66 L40.01 518.27 L43.84 510.96 L47.84 511.66 L52.19 517.40 L55.67 516.01 L60.01 515.14 L62.62 512.70 L65.23 513.05 L67.84 516.88 L73.06 520.36 L76.54 514.79 L80.37 513.57 L82.63 515.31 L85.24 513.92 L90.11 519.14 L93.07 517.05 L96.55 520.01 L100.02 523.49 L102.63 521.23 L105.24 520.53 L108.72 522.10 L113.07 522.62 L116.90 522.10 L120.90 523.84 L126.12 522.62 L129.60 523.84 L133.95 523.49 L139.17 520.01 L142.99 517.40 L147.86 517.05 L153.08 516.88 L158.30 517.40 L163.52 517.05 L167.00 519.14 L170.13 518.27 L172.61 513.92 L174.35 516.01 L177.83 514.79 L181.31 515.31 L183.92 514.44 L186.53 512.18 L190.87 512.53 L195.22 512.18 L197.83 515.14 L201.31 513.57 L203.92 515.14 L208.27 514.44 L213.14 513.57 L216.62 510.44 L218.71 510.79 L221.32 513.05 L227.41 514.44 L232.62 513.92 L235.76 514.79 L238.71 512.18 L242.19 509.22 L246.54 509.57 L249.15 508.70 L251.76 510.44 L256.98 508.35 L259.07 512.18 L262.20 509.92 L265.68 509.05 L270.02 506.96 L275.24 505.57 L277.85 507.31 L280.46 506.44 L282.72 508.35 L285.16 506.44 L290.03 510.09 L295.25 510.79 L301.34 506.09 L307.43 504.88 L311.77 503.14 L317.86 503.83 L321.34 503.83 L323.95 504.88 L328.30 502.61 L331.78 504.35 L336.13 503.48 L340.48 501.74 L343.48 501.40 L346.96 501.74 L350.44 504.70 L354.79 507.49 L358.79 504.70 L362.61 506.96 L366.96 506.09 L369.57 507.83 L372.18 507.49 L374.79 509.05 L379.14 510.44 L383.49 516.01 L386.62 516.53 L388.71 513.05 L392.19 513.05 L395.32 515.66 L397.41 513.05 L399.15 514.27 L401.75 512.53 L405.76 511.31 L408.71 507.49 L411.32 509.22 L413.93 507.83 L417.41 508.70 L420.37 511.66 L423.15 509.22 L425.24 507.49 L429.07 512.18 L434.81 509.57 L440.02 508.70 L444.37 507.49 L449.59 510.44 L454.81 509.57 L459.16 509.92 L461.77 506.09 L465.25 506.96 L469.60 506.09 L471.34 511.31 L473.95 509.92 L479.17 512.18 L483.51 507.83 L486.99 508.70 L490.47 508.70 L494.82 506.44 L498.30 506.96 L502.65 509.05 L508.74 508.70 L513.48 506.62 L516.96 507.31 L519.57 508.70 L522.18 506.96 L525.66 506.44 L529.14 503.48 L533.48 501.22 L536.96 500.35 L539.57 501.74 L542.70 506.44 L546.53 505.57 L550.88 504.88 L554.36 507.83 L558.36 514.79 L561.32 511.83 L563.93 513.92 L566.54 513.57 L570.01 510.96 L574.36 514.44 L578.71 515.66 L582.19 517.75 L584.80 517.40 L586.54 515.14 L590.02 516.88 L594.37 519.66 L596.98 520.53 L599.59 523.49 L603.07 522.62 L605.68 520.53 L608.29 519.66 L611.76 520.36 L615.24 520.53 L617.50 521.75 L620.46 517.40 L623.07 522.62 L626.20 524.88 L629.16 522.62 L631.77 523.84 L636.12 524.88 L640.47 525.58 L643.60 521.75 L646.56 520.53 L649.17 523.84 L651.77 523.49 L654.38 522.97 L656.99 526.62 L660.47 527.49 L663.08 531.32 L673.87 531.67" fill="none" stroke="#222" stroke-width="1.75" stroke-linejoin="round"/>
</svg>

<div class="div"></div>

<svg class="ico" style="top:114px;" viewBox="0 0 28 28" fill="none" stroke="#4b0082" stroke-width="1.6" stroke-linecap="round" stroke-linejoin="round">
<path d="M13 26.2H4.400C2.700 26.200 1.500 25 1.500 23.300V6.600C1.500 4.900 2.700 3.700 4.400 3.700h19.100c1.700 0 2.900 1.200 2.900 2.900V13"/>
<path d="M6.800 0.900v5.300M13.900 0.900v5.300M20.900 0.900v5.300"/>
<circle cx="21.200" cy="20.800" r="5.400"/>
<path d="M21.100 18.900v2.300h1.900"/>
<path d="M6.700 11.400h.1M11.400 11.400h.1M16.200 11.400h.1M20.900 11.400h.1M6.700 16.100h.1M11.400 16.100h.1M6.700 20.800h.1M11.400 20.800h.1" stroke-width="1.900"/>
</svg>

<svg class="ico" style="top:186px;" viewBox="0 0 28 28" fill="none" stroke="#4b0082" stroke-width="1.600" stroke-linecap="round" stroke-linejoin="round">
<path d="M1.400 17.700 14.200 5.200 19.600 4.200Q20.300 4.100 20.800 4.600L24.600 8.500Q25.200 9.100 25 9.900L23.900 15 11.300 27.200Q10.600 27.800 9.900 27.100L1.400 19.100Q0.700 18.400 1.400 17.700z"/>
<circle cx="19.500" cy="9.400" r="1.500"/>
</svg>

<svg class="ico" style="top:259px;overflow:visible" viewBox="0 0 28 28" fill="none" stroke="#4b0082" stroke-width="1.700" stroke-linecap="round" stroke-linejoin="round">
<path d="M14 0.900C11.200 3.600 7.500 5.200 2.900 5.400C2.700 9 2.600 15 4 19.500C5.500 23.500 10.500 27.200 14 28.200C17.500 27.200 22.500 23.500 24 19.500C25.400 15 25.300 9 25.200 5.400C20.500 5.200 16.800 3.600 14 0.900z"/>
<path d="M9.600 14.800l2.900 3 5.900-6.100"/>
</svg>

<svg class="ico" style="top:332px;overflow:visible" viewBox="0 0 28 28" fill="none" stroke="#4b0082" stroke-width="1.700" stroke-linecap="round" stroke-linejoin="round">
<path d="M6.670 5.950A11.800 11.800 0 1 1 3.550 15.030"/>
<path d="M1 14.500L3.300 11.900L5.700 14.500z" fill="#4b0082" stroke-width="1.300"/>
</svg>

<svg class="ico" style="top:405px;left:785.3px;width:26.4px;height:26.4px;overflow:visible" viewBox="0 0 28 28" fill="none" stroke="#4b0082" stroke-width="1.700" stroke-linecap="round" stroke-linejoin="round">
<path d="M14 0.900C11.200 3.600 7.500 5.200 2.900 5.400C2.700 9 2.600 15 4 19.500C5.500 23.500 10.500 27.200 14 28.200C17.500 27.200 22.500 23.500 24 19.500C25.400 15 25.300 9 25.200 5.400C20.500 5.200 16.800 3.600 14 0.900z"/>
<path d="M9.600 14.800l2.900 3 5.900-6.100"/>
</svg>

<div class="k" style="top:108px;">Datum a čas</div>
<div class="v" style="top:130px;">25.05.2023 | 16:35:00</div>
<div class="k" style="top:180px;">Aktuální cena</div>
<div class="v" style="top:203px;">1 320,84</div>
<div class="k" style="top:253px;">Změna</div>
<div class="v g" style="top:275px;"><i></i>0,27 <span class="pc">%</span></div>
<div class="k" style="top:326px;">Absolutní změna</div>
<div class="v g" style="top:348px;"><i></i>3,59</div>
<div class="k" style="top:398px;letter-spacing:-0.4px;">ISIN</div>
<div class="v" style="top:421px;letter-spacing:-0.12px;">XC0009698371</div>
</body>
</html>
